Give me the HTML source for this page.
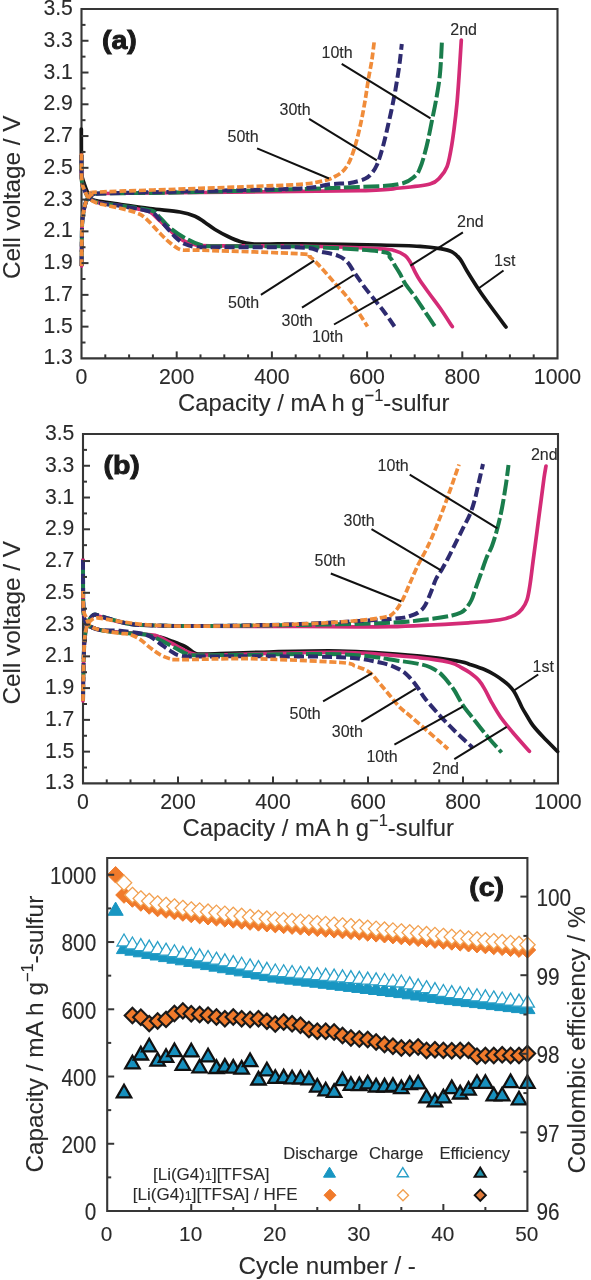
<!DOCTYPE html>
<html><head><meta charset="utf-8"><style>
html,body{margin:0;padding:0;background:#fff;}
svg{display:block;filter:blur(0.5px);}
text{font-family:"Liberation Sans", sans-serif;stroke:#2a2a2a;stroke-width:0.1px;}
</style></head><body>
<svg width="591" height="1280" viewBox="0 0 591 1280">
<rect width="591" height="1280" fill="#fff"/>
<path d="M81.5,358.4 L81.5,9 L557.5,9 L557.5,358.4 Z" fill="none" stroke="#363636" stroke-width="2.1" stroke-linejoin="miter"/>
<text x="72.9" y="364.4" font-size="21.2" font-weight="normal" text-anchor="end" fill="#2a2a2a">1.3</text>
<text x="72.9" y="332.6363636363636" font-size="21.2" font-weight="normal" text-anchor="end" fill="#2a2a2a">1.5</text>
<text x="72.9" y="300.8727272727273" font-size="21.2" font-weight="normal" text-anchor="end" fill="#2a2a2a">1.7</text>
<text x="72.9" y="269.1090909090909" font-size="21.2" font-weight="normal" text-anchor="end" fill="#2a2a2a">1.9</text>
<text x="72.9" y="237.34545454545454" font-size="21.2" font-weight="normal" text-anchor="end" fill="#2a2a2a">2.1</text>
<text x="72.9" y="205.5818181818182" font-size="21.2" font-weight="normal" text-anchor="end" fill="#2a2a2a">2.3</text>
<text x="72.9" y="173.8181818181818" font-size="21.2" font-weight="normal" text-anchor="end" fill="#2a2a2a">2.5</text>
<text x="72.9" y="142.05454545454546" font-size="21.2" font-weight="normal" text-anchor="end" fill="#2a2a2a">2.7</text>
<text x="72.9" y="110.29090909090911" font-size="21.2" font-weight="normal" text-anchor="end" fill="#2a2a2a">2.9</text>
<text x="72.9" y="78.52727272727276" font-size="21.2" font-weight="normal" text-anchor="end" fill="#2a2a2a">3.1</text>
<text x="72.9" y="46.76363636363641" font-size="21.2" font-weight="normal" text-anchor="end" fill="#2a2a2a">3.3</text>
<text x="72.9" y="15.0" font-size="21.2" font-weight="normal" text-anchor="end" fill="#2a2a2a">3.5</text>
<text x="81.5" y="383.59999999999997" font-size="21.3" font-weight="normal" text-anchor="middle" fill="#2a2a2a">0</text>
<text x="176.7" y="383.59999999999997" font-size="21.3" font-weight="normal" text-anchor="middle" fill="#2a2a2a">200</text>
<text x="271.9" y="383.59999999999997" font-size="21.3" font-weight="normal" text-anchor="middle" fill="#2a2a2a">400</text>
<text x="367.09999999999997" y="383.59999999999997" font-size="21.3" font-weight="normal" text-anchor="middle" fill="#2a2a2a">600</text>
<text x="462.29999999999995" y="383.59999999999997" font-size="21.3" font-weight="normal" text-anchor="middle" fill="#2a2a2a">800</text>
<text x="557.5" y="383.59999999999997" font-size="21.3" font-weight="normal" text-anchor="middle" fill="#2a2a2a">1000</text>
<text x="178" y="411.4" font-size="23.8" fill="#2a2a2a">Capacity / mA h g<tspan dy="-10" font-size="16.5">&#8722;1</tspan><tspan dy="10">-sulfur</tspan></text>
<text x="19.6" y="279" font-size="24.3" font-weight="normal" text-anchor="start" fill="#2a2a2a" transform="rotate(-90 19.6 279)">Cell voltage / V</text>
<text transform="translate(101.9,49) scale(1.12,1)" font-size="25.5" font-weight="bold" fill="#1a1a1a" style="stroke:#1a1a1a;stroke-width:0.9px">(a)</text>
<path d="M81.30,129.00 C81.32,134.17 81.32,152.33 81.40,160.00 C81.48,167.67 81.40,171.25 81.80,175.00 C82.20,178.75 82.82,179.55 83.80,182.50 C84.78,185.45 86.40,189.97 87.70,192.70 C89.00,195.43 89.65,197.47 91.60,198.90 C93.55,200.33 95.50,200.52 99.40,201.30 C103.30,202.08 106.57,202.40 115.00,203.60 C123.43,204.80 139.17,207.10 150.00,208.50 C160.83,209.90 172.50,210.72 180.00,212.00 C187.50,213.28 190.83,214.45 195.00,216.20 C199.17,217.95 201.67,220.28 205.00,222.50 C208.33,224.72 211.17,227.17 215.00,229.50 C218.83,231.83 223.83,234.50 228.00,236.50 C232.17,238.50 236.00,240.28 240.00,241.50 C244.00,242.72 247.00,243.38 252.00,243.80 C257.00,244.22 262.00,244.00 270.00,244.00 C278.00,244.00 281.67,243.63 300.00,243.80 C318.33,243.97 360.00,244.58 380.00,245.00 C400.00,245.42 410.00,245.70 420.00,246.30 C430.00,246.90 434.67,247.68 440.00,248.60 C445.33,249.52 448.67,250.07 452.00,251.80 C455.33,253.53 457.50,255.80 460.00,259.00 C462.50,262.20 463.83,265.83 467.00,271.00 C470.17,276.17 475.17,284.25 479.00,290.00 C482.83,295.75 485.50,299.33 490.00,305.50 C494.50,311.67 503.33,323.42 506.00,327.00" fill="none" stroke="#151515" stroke-width="3.7" stroke-linecap="round" stroke-linejoin="round"/>
<path d="M81.50,155.00 C81.55,159.33 81.28,175.12 81.80,181.00 C82.32,186.88 83.48,187.55 84.60,190.30 C85.72,193.05 86.55,195.55 88.50,197.50 C90.45,199.45 93.43,200.92 96.30,202.00 C99.17,203.08 101.75,203.42 105.70,204.00 C109.65,204.58 114.28,204.58 120.00,205.50 C125.72,206.42 135.00,208.42 140.00,209.50 C145.00,210.58 146.67,210.08 150.00,212.00 C153.33,213.92 155.83,217.22 160.00,221.00 C164.17,224.78 170.83,231.28 175.00,234.70 C179.17,238.12 181.67,239.82 185.00,241.50 C188.33,243.18 190.83,244.08 195.00,244.80 C199.17,245.52 192.50,245.60 210.00,245.80 C227.50,246.00 271.67,245.50 300.00,246.00 C328.33,246.50 364.17,248.00 380.00,248.80 C395.83,249.60 390.83,249.67 395.00,250.80 C399.17,251.93 402.50,253.78 405.00,255.60 C407.50,257.42 408.33,259.00 410.00,261.70 C411.67,264.40 413.33,268.65 415.00,271.80 C416.67,274.95 417.50,276.82 420.00,280.60 C422.50,284.38 426.67,289.93 430.00,294.50 C433.33,299.07 436.28,302.65 440.00,308.00 C443.72,313.35 450.25,323.50 452.30,326.60" fill="none" stroke="#d42b76" stroke-width="3.7" stroke-linecap="round" stroke-linejoin="round"/>
<path d="M81.60,266.00 C81.63,261.67 81.67,247.67 81.80,240.00 C81.93,232.33 81.87,225.83 82.40,220.00 C82.93,214.17 84.07,208.67 85.00,205.00 C85.93,201.33 86.67,199.75 88.00,198.00 C89.33,196.25 91.00,195.25 93.00,194.50 C95.00,193.75 82.17,193.83 100.00,193.50 C117.83,193.17 156.67,192.98 200.00,192.50 C243.33,192.02 326.67,191.35 360.00,190.60 C393.33,189.85 388.33,189.10 400.00,188.00 C411.67,186.90 423.33,185.77 430.00,184.00 C436.67,182.23 437.17,180.27 440.00,177.40 C442.83,174.53 445.17,171.45 447.00,166.80 C448.83,162.15 449.83,155.70 451.00,149.50 C452.17,143.30 453.00,137.35 454.00,129.60 C455.00,121.85 456.17,111.85 457.00,103.00 C457.83,94.15 458.28,87.00 459.00,76.50 C459.72,66.00 460.92,46.08 461.30,40.00" fill="none" stroke="#d42b76" stroke-width="3.7" stroke-linecap="round" stroke-linejoin="round"/>
<path d="M81.50,155.00 C81.55,159.33 81.28,175.12 81.80,181.00 C82.32,186.88 83.48,187.55 84.60,190.30 C85.72,193.05 86.55,195.55 88.50,197.50 C90.45,199.45 93.43,200.92 96.30,202.00 C99.17,203.08 101.75,203.42 105.70,204.00 C109.65,204.58 112.62,204.45 120.00,205.50 C127.38,206.55 143.83,208.82 150.00,210.30 C156.17,211.78 153.67,211.47 157.00,214.40 C160.33,217.33 165.33,223.97 170.00,227.90 C174.67,231.83 180.00,235.18 185.00,238.00 C190.00,240.82 195.00,243.42 200.00,244.80 C205.00,246.18 198.33,246.02 215.00,246.30 C231.67,246.58 272.50,245.63 300.00,246.50 C327.50,247.37 365.00,249.65 380.00,251.50 C395.00,253.35 387.50,255.23 390.00,257.60 C392.50,259.97 393.33,263.00 395.00,265.70 C396.67,268.40 398.33,270.87 400.00,273.80 C401.67,276.73 402.50,279.47 405.00,283.30 C407.50,287.13 411.67,292.07 415.00,296.80 C418.33,301.53 421.67,306.73 425.00,311.70 C428.33,316.67 433.33,324.12 435.00,326.60" fill="none" stroke="#1a7d4c" stroke-width="4.0" stroke-dasharray="16,3.5" stroke-linecap="butt" stroke-linejoin="round"/>
<path d="M81.60,266.00 C81.63,261.67 81.67,247.67 81.80,240.00 C81.93,232.33 81.87,225.83 82.40,220.00 C82.93,214.17 84.07,208.67 85.00,205.00 C85.93,201.33 86.67,199.75 88.00,198.00 C89.33,196.25 91.00,195.25 93.00,194.50 C95.00,193.75 82.17,193.92 100.00,193.50 C117.83,193.08 156.67,193.08 200.00,192.00 C243.33,190.92 326.67,188.33 360.00,187.00 C393.33,185.67 390.83,185.82 400.00,184.00 C409.17,182.18 411.67,178.75 415.00,176.10 C418.33,173.45 418.50,171.42 420.00,168.10 C421.50,164.78 422.67,160.85 424.00,156.20 C425.33,151.55 426.67,146.18 428.00,140.20 C429.33,134.22 430.67,126.93 432.00,120.30 C433.33,113.67 434.67,108.15 436.00,100.40 C437.33,92.65 439.00,83.87 440.00,73.80 C441.00,63.73 441.67,45.63 442.00,40.00" fill="none" stroke="#1a7d4c" stroke-width="4.0" stroke-dasharray="16,3.5" stroke-linecap="butt" stroke-linejoin="round"/>
<path d="M81.50,155.00 C81.55,159.33 81.28,175.12 81.80,181.00 C82.32,186.88 83.48,187.55 84.60,190.30 C85.72,193.05 86.55,195.55 88.50,197.50 C90.45,199.45 93.43,200.92 96.30,202.00 C99.17,203.08 101.75,203.37 105.70,204.00 C109.65,204.63 112.62,204.52 120.00,205.80 C127.38,207.08 143.33,209.33 150.00,211.70 C156.67,214.07 155.83,215.83 160.00,220.00 C164.17,224.17 170.83,232.70 175.00,236.70 C179.17,240.70 181.67,242.32 185.00,244.00 C188.33,245.68 190.83,246.25 195.00,246.80 C199.17,247.35 192.50,247.18 210.00,247.30 C227.50,247.42 281.67,246.80 300.00,247.50 C318.33,248.20 313.73,250.15 320.00,251.50 C326.27,252.85 333.10,253.90 337.60,255.60 C342.10,257.30 344.07,258.67 347.00,261.70 C349.93,264.73 352.25,269.52 355.20,273.80 C358.15,278.08 361.32,282.88 364.70,287.40 C368.08,291.92 372.12,296.63 375.50,300.90 C378.88,305.17 381.83,308.73 385.00,313.00 C388.17,317.27 392.92,324.25 394.50,326.50" fill="none" stroke="#2e2b70" stroke-width="4.0" stroke-dasharray="10,4" stroke-linecap="butt" stroke-linejoin="round"/>
<path d="M81.60,266.00 C81.63,261.67 81.67,247.67 81.80,240.00 C81.93,232.33 81.87,225.83 82.40,220.00 C82.93,214.17 84.07,208.67 85.00,205.00 C85.93,201.33 86.67,199.75 88.00,198.00 C89.33,196.25 91.00,195.25 93.00,194.50 C95.00,193.75 82.17,194.07 100.00,193.50 C117.83,192.93 166.67,191.95 200.00,191.10 C233.33,190.25 278.33,189.53 300.00,188.40 C321.67,187.27 321.67,185.22 330.00,184.30 C338.33,183.38 344.17,183.82 350.00,182.90 C355.83,181.98 361.33,180.45 365.00,178.80 C368.67,177.15 370.02,175.30 372.00,173.00 C373.98,170.70 375.48,168.03 376.90,165.00 C378.32,161.97 379.23,158.87 380.50,154.80 C381.77,150.73 383.25,145.48 384.50,140.60 C385.75,135.72 386.83,130.60 388.00,125.50 C389.17,120.40 390.42,115.08 391.50,110.00 C392.58,104.92 393.58,99.92 394.50,95.00 C395.42,90.08 396.17,85.67 397.00,80.50 C397.83,75.33 398.70,70.08 399.50,64.00 C400.30,57.92 401.42,47.33 401.80,44.00" fill="none" stroke="#2e2b70" stroke-width="4.0" stroke-dasharray="10,4" stroke-linecap="butt" stroke-linejoin="round"/>
<path d="M81.50,153.60 C81.55,158.17 81.28,174.88 81.80,181.00 C82.32,187.12 83.48,187.47 84.60,190.30 C85.72,193.13 86.55,195.92 88.50,198.00 C90.45,200.08 93.43,201.60 96.30,202.80 C99.17,204.00 101.75,204.28 105.70,205.20 C109.65,206.12 115.12,207.12 120.00,208.30 C124.88,209.48 130.83,210.73 135.00,212.30 C139.17,213.87 140.83,214.20 145.00,217.70 C149.17,221.20 155.83,229.12 160.00,233.30 C164.17,237.48 166.67,240.10 170.00,242.80 C173.33,245.50 176.67,248.27 180.00,249.50 C183.33,250.73 185.00,250.03 190.00,250.20 C195.00,250.37 191.67,249.90 210.00,250.50 C228.33,251.10 283.33,252.72 300.00,253.80 C316.67,254.88 306.67,254.90 310.00,257.00 C313.33,259.10 315.85,262.02 320.00,266.40 C324.15,270.78 330.40,278.23 334.90,283.30 C339.40,288.37 343.17,292.07 347.00,296.80 C350.83,301.53 354.48,306.75 357.90,311.70 C361.32,316.65 365.90,324.03 367.50,326.50" fill="none" stroke="#f08c3a" stroke-width="3.7" stroke-dasharray="7,2.8" stroke-linecap="butt" stroke-linejoin="round"/>
<path d="M81.60,266.00 C81.63,261.67 81.67,247.67 81.80,240.00 C81.93,232.33 81.87,225.83 82.40,220.00 C82.93,214.17 84.07,208.67 85.00,205.00 C85.93,201.33 86.67,199.92 88.00,198.00 C89.33,196.08 91.00,194.50 93.00,193.50 C95.00,192.50 82.17,192.85 100.00,192.00 C117.83,191.15 175.00,189.32 200.00,188.40 C225.00,187.48 233.33,187.17 250.00,186.50 C266.67,185.83 287.50,185.40 300.00,184.40 C312.50,183.40 319.17,181.82 325.00,180.50 C330.83,179.18 332.17,177.92 335.00,176.50 C337.83,175.08 340.00,173.75 342.00,172.00 C344.00,170.25 345.50,168.33 347.00,166.00 C348.50,163.67 349.48,161.90 351.00,158.00 C352.52,154.10 354.40,148.72 356.10,142.60 C357.80,136.48 359.68,128.40 361.20,121.30 C362.72,114.20 364.02,106.93 365.20,100.00 C366.38,93.07 367.20,86.30 368.30,79.70 C369.40,73.10 370.78,67.02 371.80,60.40 C372.82,53.78 373.97,43.40 374.40,40.00" fill="none" stroke="#f08c3a" stroke-width="3.7" stroke-dasharray="7,2.8" stroke-linecap="butt" stroke-linejoin="round"/>
<line x1="81.50" y1="342.52" x2="85.50" y2="342.52" stroke="#363636" stroke-width="2.0"/>
<line x1="81.50" y1="326.64" x2="88.50" y2="326.64" stroke="#363636" stroke-width="2.0"/>
<line x1="81.50" y1="310.75" x2="85.50" y2="310.75" stroke="#363636" stroke-width="2.0"/>
<line x1="81.50" y1="294.87" x2="88.50" y2="294.87" stroke="#363636" stroke-width="2.0"/>
<line x1="81.50" y1="278.99" x2="85.50" y2="278.99" stroke="#363636" stroke-width="2.0"/>
<line x1="81.50" y1="263.11" x2="88.50" y2="263.11" stroke="#363636" stroke-width="2.0"/>
<line x1="81.50" y1="247.23" x2="85.50" y2="247.23" stroke="#363636" stroke-width="2.0"/>
<line x1="81.50" y1="231.35" x2="88.50" y2="231.35" stroke="#363636" stroke-width="2.0"/>
<line x1="81.50" y1="215.46" x2="85.50" y2="215.46" stroke="#363636" stroke-width="2.0"/>
<line x1="81.50" y1="199.58" x2="88.50" y2="199.58" stroke="#363636" stroke-width="2.0"/>
<line x1="81.50" y1="183.70" x2="85.50" y2="183.70" stroke="#363636" stroke-width="2.0"/>
<line x1="81.50" y1="167.82" x2="88.50" y2="167.82" stroke="#363636" stroke-width="2.0"/>
<line x1="81.50" y1="151.94" x2="85.50" y2="151.94" stroke="#363636" stroke-width="2.0"/>
<line x1="81.50" y1="136.05" x2="88.50" y2="136.05" stroke="#363636" stroke-width="2.0"/>
<line x1="81.50" y1="120.17" x2="85.50" y2="120.17" stroke="#363636" stroke-width="2.0"/>
<line x1="81.50" y1="104.29" x2="88.50" y2="104.29" stroke="#363636" stroke-width="2.0"/>
<line x1="81.50" y1="88.41" x2="85.50" y2="88.41" stroke="#363636" stroke-width="2.0"/>
<line x1="81.50" y1="72.53" x2="88.50" y2="72.53" stroke="#363636" stroke-width="2.0"/>
<line x1="81.50" y1="56.65" x2="85.50" y2="56.65" stroke="#363636" stroke-width="2.0"/>
<line x1="81.50" y1="40.76" x2="88.50" y2="40.76" stroke="#363636" stroke-width="2.0"/>
<line x1="81.50" y1="24.88" x2="85.50" y2="24.88" stroke="#363636" stroke-width="2.0"/>
<line x1="105.30" y1="358.40" x2="105.30" y2="354.40" stroke="#363636" stroke-width="2.0"/>
<line x1="129.10" y1="358.40" x2="129.10" y2="354.40" stroke="#363636" stroke-width="2.0"/>
<line x1="152.90" y1="358.40" x2="152.90" y2="354.40" stroke="#363636" stroke-width="2.0"/>
<line x1="176.70" y1="358.40" x2="176.70" y2="351.40" stroke="#363636" stroke-width="2.0"/>
<line x1="200.50" y1="358.40" x2="200.50" y2="354.40" stroke="#363636" stroke-width="2.0"/>
<line x1="224.30" y1="358.40" x2="224.30" y2="354.40" stroke="#363636" stroke-width="2.0"/>
<line x1="248.10" y1="358.40" x2="248.10" y2="354.40" stroke="#363636" stroke-width="2.0"/>
<line x1="271.90" y1="358.40" x2="271.90" y2="351.40" stroke="#363636" stroke-width="2.0"/>
<line x1="295.70" y1="358.40" x2="295.70" y2="354.40" stroke="#363636" stroke-width="2.0"/>
<line x1="319.50" y1="358.40" x2="319.50" y2="354.40" stroke="#363636" stroke-width="2.0"/>
<line x1="343.30" y1="358.40" x2="343.30" y2="354.40" stroke="#363636" stroke-width="2.0"/>
<line x1="367.10" y1="358.40" x2="367.10" y2="351.40" stroke="#363636" stroke-width="2.0"/>
<line x1="390.90" y1="358.40" x2="390.90" y2="354.40" stroke="#363636" stroke-width="2.0"/>
<line x1="414.70" y1="358.40" x2="414.70" y2="354.40" stroke="#363636" stroke-width="2.0"/>
<line x1="438.50" y1="358.40" x2="438.50" y2="354.40" stroke="#363636" stroke-width="2.0"/>
<line x1="462.30" y1="358.40" x2="462.30" y2="351.40" stroke="#363636" stroke-width="2.0"/>
<line x1="486.10" y1="358.40" x2="486.10" y2="354.40" stroke="#363636" stroke-width="2.0"/>
<line x1="509.90" y1="358.40" x2="509.90" y2="354.40" stroke="#363636" stroke-width="2.0"/>
<line x1="533.70" y1="358.40" x2="533.70" y2="354.40" stroke="#363636" stroke-width="2.0"/>
<text x="321.5" y="57.5" font-size="16" font-weight="normal" text-anchor="start" fill="#2a2a2a">10th</text>
<line x1="341.70" y1="63.80" x2="430.50" y2="118.30" stroke="#111" stroke-width="2.0"/>
<text x="279.5" y="114.6" font-size="16" font-weight="normal" text-anchor="start" fill="#2a2a2a">30th</text>
<line x1="309.10" y1="118.80" x2="376.80" y2="160.40" stroke="#111" stroke-width="2.0"/>
<text x="227.5" y="142.1" font-size="16" font-weight="normal" text-anchor="start" fill="#2a2a2a">50th</text>
<line x1="257.10" y1="148.40" x2="329.00" y2="178.50" stroke="#111" stroke-width="2.0"/>
<text x="450.3" y="34.9" font-size="16" font-weight="normal" text-anchor="start" fill="#2a2a2a">2nd</text>
<text x="457" y="226.5" font-size="16" font-weight="normal" text-anchor="start" fill="#2a2a2a">2nd</text>
<line x1="462.90" y1="232.30" x2="410.40" y2="265.70" stroke="#111" stroke-width="2.0"/>
<text x="494" y="266" font-size="16" font-weight="normal" text-anchor="start" fill="#2a2a2a">1st</text>
<line x1="503.50" y1="270.50" x2="478.10" y2="288.80" stroke="#111" stroke-width="2.0"/>
<text x="228" y="307.6" font-size="16" font-weight="normal" text-anchor="start" fill="#2a2a2a">50th</text>
<line x1="260.90" y1="294.80" x2="314.20" y2="260.70" stroke="#111" stroke-width="2.0"/>
<text x="281.6" y="325.9" font-size="16" font-weight="normal" text-anchor="start" fill="#2a2a2a">30th</text>
<line x1="302.00" y1="307.60" x2="353.80" y2="275.00" stroke="#111" stroke-width="2.0"/>
<text x="312" y="342" font-size="16" font-weight="normal" text-anchor="start" fill="#2a2a2a">10th</text>
<line x1="334.00" y1="324.50" x2="403.00" y2="285.30" stroke="#111" stroke-width="2.0"/>
<path d="M83,783.4 L83,434 L558,434 L558,783.4 Z" fill="none" stroke="#363636" stroke-width="2.1" stroke-linejoin="miter"/>
<text x="74.4" y="789.4" font-size="21.2" font-weight="normal" text-anchor="end" fill="#2a2a2a">1.3</text>
<text x="74.4" y="757.6363636363636" font-size="21.2" font-weight="normal" text-anchor="end" fill="#2a2a2a">1.5</text>
<text x="74.4" y="725.8727272727273" font-size="21.2" font-weight="normal" text-anchor="end" fill="#2a2a2a">1.7</text>
<text x="74.4" y="694.1090909090909" font-size="21.2" font-weight="normal" text-anchor="end" fill="#2a2a2a">1.9</text>
<text x="74.4" y="662.3454545454546" font-size="21.2" font-weight="normal" text-anchor="end" fill="#2a2a2a">2.1</text>
<text x="74.4" y="630.5818181818182" font-size="21.2" font-weight="normal" text-anchor="end" fill="#2a2a2a">2.3</text>
<text x="74.4" y="598.8181818181818" font-size="21.2" font-weight="normal" text-anchor="end" fill="#2a2a2a">2.5</text>
<text x="74.4" y="567.0545454545454" font-size="21.2" font-weight="normal" text-anchor="end" fill="#2a2a2a">2.7</text>
<text x="74.4" y="535.290909090909" font-size="21.2" font-weight="normal" text-anchor="end" fill="#2a2a2a">2.9</text>
<text x="74.4" y="503.52727272727276" font-size="21.2" font-weight="normal" text-anchor="end" fill="#2a2a2a">3.1</text>
<text x="74.4" y="471.7636363636364" font-size="21.2" font-weight="normal" text-anchor="end" fill="#2a2a2a">3.3</text>
<text x="74.4" y="440.0" font-size="21.2" font-weight="normal" text-anchor="end" fill="#2a2a2a">3.5</text>
<text x="83.0" y="808.6" font-size="21.3" font-weight="normal" text-anchor="middle" fill="#2a2a2a">0</text>
<text x="178.0" y="808.6" font-size="21.3" font-weight="normal" text-anchor="middle" fill="#2a2a2a">200</text>
<text x="273.0" y="808.6" font-size="21.3" font-weight="normal" text-anchor="middle" fill="#2a2a2a">400</text>
<text x="368.0" y="808.6" font-size="21.3" font-weight="normal" text-anchor="middle" fill="#2a2a2a">600</text>
<text x="463.0" y="808.6" font-size="21.3" font-weight="normal" text-anchor="middle" fill="#2a2a2a">800</text>
<text x="558.0" y="808.6" font-size="21.3" font-weight="normal" text-anchor="middle" fill="#2a2a2a">1000</text>
<text x="182.5" y="836.4" font-size="23.8" fill="#2a2a2a">Capacity / mA h g<tspan dy="-10" font-size="16.5">&#8722;1</tspan><tspan dy="10">-sulfur</tspan></text>
<text x="19.6" y="704.5" font-size="24.3" font-weight="normal" text-anchor="start" fill="#2a2a2a" transform="rotate(-90 19.6 704.5)">Cell voltage / V</text>
<text transform="translate(103.4,474) scale(1.12,1)" font-size="25.5" font-weight="bold" fill="#1a1a1a" style="stroke:#1a1a1a;stroke-width:0.9px">(b)</text>
<path d="M83.00,560.00 C83.03,566.67 83.03,590.50 83.20,600.00 C83.37,609.50 83.53,613.17 84.00,617.00 C84.47,620.83 85.00,621.42 86.00,623.00 C87.00,624.58 87.67,625.33 90.00,626.50 C92.33,627.67 95.00,629.00 100.00,630.00 C105.00,631.00 113.33,631.83 120.00,632.50 C126.67,633.17 133.33,633.25 140.00,634.00 C146.67,634.75 155.00,635.92 160.00,637.00 C165.00,638.08 165.83,638.92 170.00,640.50 C174.17,642.08 180.83,644.38 185.00,646.50 C189.17,648.62 191.67,651.95 195.00,653.20 C198.33,654.45 195.83,654.12 205.00,654.00 C214.17,653.88 227.50,653.00 250.00,652.50 C272.50,652.00 311.67,650.42 340.00,651.00 C368.33,651.58 400.00,654.25 420.00,656.00 C440.00,657.75 451.67,660.08 460.00,661.50 C468.33,662.92 465.83,663.12 470.00,664.50 C474.17,665.88 480.83,668.05 485.00,669.80 C489.17,671.55 492.00,673.22 495.00,675.00 C498.00,676.78 500.67,678.75 503.00,680.50 C505.33,682.25 507.17,683.67 509.00,685.50 C510.83,687.33 512.50,689.25 514.00,691.50 C515.50,693.75 516.67,696.33 518.00,699.00 C519.33,701.67 520.50,704.67 522.00,707.50 C523.50,710.33 525.17,713.00 527.00,716.00 C528.83,719.00 530.33,722.03 533.00,725.50 C535.67,728.97 538.90,732.47 543.00,736.80 C547.10,741.13 555.17,749.05 557.60,751.50" fill="none" stroke="#151515" stroke-width="3.7" stroke-linecap="round" stroke-linejoin="round"/>
<path d="M83.00,560.00 C83.03,566.67 83.03,590.50 83.20,600.00 C83.37,609.50 83.53,613.17 84.00,617.00 C84.47,620.83 85.00,621.42 86.00,623.00 C87.00,624.58 87.67,625.33 90.00,626.50 C92.33,627.67 95.00,629.00 100.00,630.00 C105.00,631.00 113.33,631.83 120.00,632.50 C126.67,633.17 134.17,633.52 140.00,634.00 C145.83,634.48 150.00,633.98 155.00,635.40 C160.00,636.82 165.00,639.97 170.00,642.50 C175.00,645.03 180.83,648.63 185.00,650.60 C189.17,652.57 190.83,653.57 195.00,654.30 C199.17,655.03 185.83,655.33 210.00,655.00 C234.17,654.67 305.00,651.83 340.00,652.30 C375.00,652.77 401.67,656.10 420.00,657.80 C438.33,659.50 443.00,660.80 450.00,662.50 C457.00,664.20 458.67,666.28 462.00,668.00 C465.33,669.72 467.17,670.72 470.00,672.80 C472.83,674.88 476.50,677.70 479.00,680.50 C481.50,683.30 482.95,686.05 485.00,689.60 C487.05,693.15 488.72,697.23 491.30,701.80 C493.88,706.37 496.95,711.93 500.50,717.00 C504.05,722.07 507.78,726.48 512.60,732.20 C517.42,737.92 526.60,748.12 529.40,751.30" fill="none" stroke="#d42b76" stroke-width="3.7" stroke-linecap="round" stroke-linejoin="round"/>
<path d="M83.00,701.00 C83.05,697.50 83.13,688.50 83.30,680.00 C83.47,671.50 83.63,658.00 84.00,650.00 C84.37,642.00 84.83,636.67 85.50,632.00 C86.17,627.33 86.92,624.58 88.00,622.00 C89.08,619.42 90.83,617.67 92.00,616.50 C93.17,615.33 93.67,615.00 95.00,615.00 C96.33,615.00 97.50,615.75 100.00,616.50 C102.50,617.25 105.00,618.25 110.00,619.50 C115.00,620.75 123.33,623.00 130.00,624.00 C136.67,625.00 138.33,625.13 150.00,625.50 C161.67,625.87 175.00,626.03 200.00,626.20 C225.00,626.37 268.33,626.43 300.00,626.50 C331.67,626.57 361.67,627.23 390.00,626.60 C418.33,625.97 451.67,623.85 470.00,622.70 C488.33,621.55 492.50,620.97 500.00,619.70 C507.50,618.43 511.33,616.88 515.00,615.10 C518.67,613.32 520.00,611.53 522.00,609.00 C524.00,606.47 525.67,603.95 527.00,599.90 C528.33,595.85 529.00,591.05 530.00,584.70 C531.00,578.35 531.83,570.68 533.00,561.80 C534.17,552.92 535.67,541.55 537.00,531.40 C538.33,521.25 539.83,509.78 541.00,500.90 C542.17,492.02 543.17,483.92 544.00,478.10 C544.83,472.28 545.67,468.02 546.00,466.00" fill="none" stroke="#d42b76" stroke-width="3.7" stroke-linecap="round" stroke-linejoin="round"/>
<path d="M83.00,560.00 C83.03,566.67 83.03,590.50 83.20,600.00 C83.37,609.50 83.53,613.17 84.00,617.00 C84.47,620.83 85.00,621.42 86.00,623.00 C87.00,624.58 87.67,625.33 90.00,626.50 C92.33,627.67 95.00,629.00 100.00,630.00 C105.00,631.00 113.33,631.83 120.00,632.50 C126.67,633.17 135.00,633.52 140.00,634.00 C145.00,634.48 145.83,633.98 150.00,635.40 C154.17,636.82 160.00,639.97 165.00,642.50 C170.00,645.03 175.83,648.57 180.00,650.60 C184.17,652.63 185.83,653.92 190.00,654.70 C194.17,655.48 180.00,655.37 205.00,655.30 C230.00,655.23 307.50,653.35 340.00,654.30 C372.50,655.25 386.67,659.35 400.00,661.00 C413.33,662.65 414.97,663.15 420.00,664.20 C425.03,665.25 426.82,665.77 430.20,667.30 C433.58,668.83 437.27,670.87 440.30,673.40 C443.33,675.93 446.03,679.63 448.40,682.50 C450.77,685.37 452.13,686.88 454.50,690.60 C456.87,694.32 460.02,700.82 462.60,704.80 C465.18,708.78 467.10,710.77 470.00,714.50 C472.90,718.23 476.67,723.03 480.00,727.20 C483.33,731.37 486.40,735.28 490.00,739.50 C493.60,743.72 499.67,750.33 501.60,752.50" fill="none" stroke="#1a7d4c" stroke-width="4.0" stroke-dasharray="16,3.5" stroke-linecap="butt" stroke-linejoin="round"/>
<path d="M83.00,701.00 C83.05,697.50 83.13,688.50 83.30,680.00 C83.47,671.50 83.63,658.00 84.00,650.00 C84.37,642.00 84.83,636.67 85.50,632.00 C86.17,627.33 86.92,624.67 88.00,622.00 C89.08,619.33 90.83,617.25 92.00,616.00 C93.17,614.75 93.67,614.50 95.00,614.50 C96.33,614.50 97.50,615.25 100.00,616.00 C102.50,616.75 105.00,617.67 110.00,619.00 C115.00,620.33 123.33,622.95 130.00,624.00 C136.67,625.05 138.33,624.97 150.00,625.30 C161.67,625.63 175.00,626.05 200.00,626.00 C225.00,625.95 268.33,625.53 300.00,625.00 C331.67,624.47 368.33,623.80 390.00,622.80 C411.67,621.80 419.67,620.22 430.00,619.00 C440.33,617.78 446.83,616.58 452.00,615.50 C457.17,614.42 458.67,613.67 461.00,612.50 C463.33,611.33 464.25,610.58 466.00,608.50 C467.75,606.42 469.92,603.30 471.50,600.00 C473.08,596.70 473.98,592.95 475.50,588.70 C477.02,584.45 478.73,579.73 480.60,574.50 C482.47,569.27 484.80,562.05 486.70,557.30 C488.60,552.55 490.22,550.83 492.00,546.00 C493.78,541.17 495.73,534.63 497.40,528.30 C499.07,521.97 500.57,515.38 502.00,508.00 C503.43,500.62 504.92,491.17 506.00,484.00 C507.08,476.83 508.08,468.17 508.50,465.00" fill="none" stroke="#1a7d4c" stroke-width="4.0" stroke-dasharray="16,3.5" stroke-linecap="butt" stroke-linejoin="round"/>
<path d="M83.00,560.00 C83.03,566.67 83.03,590.50 83.20,600.00 C83.37,609.50 83.53,613.17 84.00,617.00 C84.47,620.83 85.00,621.42 86.00,623.00 C87.00,624.58 87.67,625.33 90.00,626.50 C92.33,627.67 95.00,629.28 100.00,630.00 C105.00,630.72 113.33,630.25 120.00,630.80 C126.67,631.35 135.00,632.37 140.00,633.30 C145.00,634.23 146.67,634.70 150.00,636.40 C153.33,638.10 156.67,641.13 160.00,643.50 C163.33,645.87 166.67,648.57 170.00,650.60 C173.33,652.63 175.00,654.72 180.00,655.70 C185.00,656.68 188.33,656.40 200.00,656.50 C211.67,656.60 226.67,656.18 250.00,656.30 C273.33,656.42 318.33,656.17 340.00,657.20 C361.67,658.23 370.00,660.43 380.00,662.50 C390.00,664.57 395.00,667.03 400.00,669.60 C405.00,672.17 407.00,674.83 410.00,677.90 C413.00,680.97 415.50,684.57 418.00,688.00 C420.50,691.43 421.33,693.87 425.00,698.50 C428.67,703.13 435.00,710.35 440.00,715.80 C445.00,721.25 449.58,725.92 455.00,731.20 C460.42,736.48 469.58,744.78 472.50,747.50" fill="none" stroke="#2e2b70" stroke-width="4.0" stroke-dasharray="10,4" stroke-linecap="butt" stroke-linejoin="round"/>
<path d="M83.00,701.00 C83.05,697.50 83.13,688.50 83.30,680.00 C83.47,671.50 83.63,658.00 84.00,650.00 C84.37,642.00 84.83,636.67 85.50,632.00 C86.17,627.33 86.92,624.67 88.00,622.00 C89.08,619.33 90.83,617.25 92.00,616.00 C93.17,614.75 93.67,614.50 95.00,614.50 C96.33,614.50 97.50,615.25 100.00,616.00 C102.50,616.75 105.00,617.67 110.00,619.00 C115.00,620.33 123.33,622.95 130.00,624.00 C136.67,625.05 138.33,624.97 150.00,625.30 C161.67,625.63 175.00,626.22 200.00,626.00 C225.00,625.78 268.33,625.17 300.00,624.00 C331.67,622.83 371.67,620.33 390.00,619.00 C408.33,617.67 405.17,617.17 410.00,616.00 C414.83,614.83 416.50,613.75 419.00,612.00 C421.50,610.25 423.00,608.83 425.00,605.50 C427.00,602.17 429.17,596.42 431.00,592.00 C432.83,587.58 434.23,582.68 436.00,579.00 C437.77,575.32 439.68,573.20 441.60,569.90 C443.52,566.60 445.13,563.75 447.50,559.20 C449.87,554.65 453.23,547.73 455.80,542.60 C458.37,537.47 460.53,533.13 462.90,528.40 C465.27,523.67 468.03,518.93 470.00,514.20 C471.97,509.47 473.32,504.93 474.70,500.00 C476.08,495.07 476.92,490.60 478.30,484.60 C479.68,478.60 482.22,467.43 483.00,464.00" fill="none" stroke="#2e2b70" stroke-width="4.0" stroke-dasharray="10,4" stroke-linecap="butt" stroke-linejoin="round"/>
<path d="M83.00,591.00 C83.08,594.17 83.00,605.67 83.50,610.00 C84.00,614.33 84.92,614.38 86.00,617.00 C87.08,619.62 87.67,623.53 90.00,625.70 C92.33,627.87 95.00,628.73 100.00,630.00 C105.00,631.27 115.00,632.57 120.00,633.30 C125.00,634.03 126.67,633.38 130.00,634.40 C133.33,635.42 136.67,637.20 140.00,639.40 C143.33,641.60 146.67,645.05 150.00,647.60 C153.33,650.15 156.67,652.85 160.00,654.70 C163.33,656.55 166.67,657.87 170.00,658.70 C173.33,659.53 166.67,659.70 180.00,659.70 C193.33,659.70 223.33,658.23 250.00,658.70 C276.67,659.17 322.50,661.27 340.00,662.50 C357.50,663.73 350.83,664.92 355.00,666.10 C359.17,667.28 362.17,668.22 365.00,669.60 C367.83,670.98 369.50,672.03 372.00,674.40 C374.50,676.77 377.00,680.25 380.00,683.80 C383.00,687.35 386.67,691.75 390.00,695.70 C393.33,699.65 396.67,704.15 400.00,707.50 C403.33,710.85 405.83,712.23 410.00,715.80 C414.17,719.37 420.00,724.55 425.00,728.90 C430.00,733.25 436.17,738.55 440.00,741.90 C443.83,745.25 446.67,747.82 448.00,749.00" fill="none" stroke="#f08c3a" stroke-width="3.7" stroke-dasharray="7,2.8" stroke-linecap="butt" stroke-linejoin="round"/>
<path d="M83.00,701.00 C83.05,697.50 83.13,688.50 83.30,680.00 C83.47,671.50 83.63,658.00 84.00,650.00 C84.37,642.00 84.83,636.33 85.50,632.00 C86.17,627.67 86.92,626.08 88.00,624.00 C89.08,621.92 90.50,620.53 92.00,619.50 C93.50,618.47 94.83,617.88 97.00,617.80 C99.17,617.72 101.17,618.38 105.00,619.00 C108.83,619.62 112.50,620.50 120.00,621.50 C127.50,622.50 136.67,624.22 150.00,625.00 C163.33,625.78 176.67,626.30 200.00,626.20 C223.33,626.10 265.00,625.22 290.00,624.40 C315.00,623.58 334.17,622.53 350.00,621.30 C365.83,620.07 377.67,618.47 385.00,617.00 C392.33,615.53 391.17,615.17 394.00,612.50 C396.83,609.83 399.33,605.92 402.00,601.00 C404.67,596.08 407.33,589.00 410.00,583.00 C412.67,577.00 415.50,570.17 418.00,565.00 C420.50,559.83 422.83,556.25 425.00,552.00 C427.17,547.75 428.43,545.40 431.00,539.50 C433.57,533.60 437.45,524.17 440.40,516.60 C443.35,509.03 446.43,500.37 448.70,494.10 C450.97,487.83 452.28,483.93 454.00,479.00 C455.72,474.07 458.17,466.92 459.00,464.50" fill="none" stroke="#f08c3a" stroke-width="3.7" stroke-dasharray="7,2.8" stroke-linecap="butt" stroke-linejoin="round"/>
<line x1="83.00" y1="767.52" x2="87.00" y2="767.52" stroke="#363636" stroke-width="2.0"/>
<line x1="83.00" y1="751.64" x2="90.00" y2="751.64" stroke="#363636" stroke-width="2.0"/>
<line x1="83.00" y1="735.75" x2="87.00" y2="735.75" stroke="#363636" stroke-width="2.0"/>
<line x1="83.00" y1="719.87" x2="90.00" y2="719.87" stroke="#363636" stroke-width="2.0"/>
<line x1="83.00" y1="703.99" x2="87.00" y2="703.99" stroke="#363636" stroke-width="2.0"/>
<line x1="83.00" y1="688.11" x2="90.00" y2="688.11" stroke="#363636" stroke-width="2.0"/>
<line x1="83.00" y1="672.23" x2="87.00" y2="672.23" stroke="#363636" stroke-width="2.0"/>
<line x1="83.00" y1="656.35" x2="90.00" y2="656.35" stroke="#363636" stroke-width="2.0"/>
<line x1="83.00" y1="640.46" x2="87.00" y2="640.46" stroke="#363636" stroke-width="2.0"/>
<line x1="83.00" y1="624.58" x2="90.00" y2="624.58" stroke="#363636" stroke-width="2.0"/>
<line x1="83.00" y1="608.70" x2="87.00" y2="608.70" stroke="#363636" stroke-width="2.0"/>
<line x1="83.00" y1="592.82" x2="90.00" y2="592.82" stroke="#363636" stroke-width="2.0"/>
<line x1="83.00" y1="576.94" x2="87.00" y2="576.94" stroke="#363636" stroke-width="2.0"/>
<line x1="83.00" y1="561.05" x2="90.00" y2="561.05" stroke="#363636" stroke-width="2.0"/>
<line x1="83.00" y1="545.17" x2="87.00" y2="545.17" stroke="#363636" stroke-width="2.0"/>
<line x1="83.00" y1="529.29" x2="90.00" y2="529.29" stroke="#363636" stroke-width="2.0"/>
<line x1="83.00" y1="513.41" x2="87.00" y2="513.41" stroke="#363636" stroke-width="2.0"/>
<line x1="83.00" y1="497.53" x2="90.00" y2="497.53" stroke="#363636" stroke-width="2.0"/>
<line x1="83.00" y1="481.65" x2="87.00" y2="481.65" stroke="#363636" stroke-width="2.0"/>
<line x1="83.00" y1="465.76" x2="90.00" y2="465.76" stroke="#363636" stroke-width="2.0"/>
<line x1="83.00" y1="449.88" x2="87.00" y2="449.88" stroke="#363636" stroke-width="2.0"/>
<line x1="106.75" y1="783.40" x2="106.75" y2="779.40" stroke="#363636" stroke-width="2.0"/>
<line x1="130.50" y1="783.40" x2="130.50" y2="779.40" stroke="#363636" stroke-width="2.0"/>
<line x1="154.25" y1="783.40" x2="154.25" y2="779.40" stroke="#363636" stroke-width="2.0"/>
<line x1="178.00" y1="783.40" x2="178.00" y2="776.40" stroke="#363636" stroke-width="2.0"/>
<line x1="201.75" y1="783.40" x2="201.75" y2="779.40" stroke="#363636" stroke-width="2.0"/>
<line x1="225.50" y1="783.40" x2="225.50" y2="779.40" stroke="#363636" stroke-width="2.0"/>
<line x1="249.25" y1="783.40" x2="249.25" y2="779.40" stroke="#363636" stroke-width="2.0"/>
<line x1="273.00" y1="783.40" x2="273.00" y2="776.40" stroke="#363636" stroke-width="2.0"/>
<line x1="296.75" y1="783.40" x2="296.75" y2="779.40" stroke="#363636" stroke-width="2.0"/>
<line x1="320.50" y1="783.40" x2="320.50" y2="779.40" stroke="#363636" stroke-width="2.0"/>
<line x1="344.25" y1="783.40" x2="344.25" y2="779.40" stroke="#363636" stroke-width="2.0"/>
<line x1="368.00" y1="783.40" x2="368.00" y2="776.40" stroke="#363636" stroke-width="2.0"/>
<line x1="391.75" y1="783.40" x2="391.75" y2="779.40" stroke="#363636" stroke-width="2.0"/>
<line x1="415.50" y1="783.40" x2="415.50" y2="779.40" stroke="#363636" stroke-width="2.0"/>
<line x1="439.25" y1="783.40" x2="439.25" y2="779.40" stroke="#363636" stroke-width="2.0"/>
<line x1="463.00" y1="783.40" x2="463.00" y2="776.40" stroke="#363636" stroke-width="2.0"/>
<line x1="486.75" y1="783.40" x2="486.75" y2="779.40" stroke="#363636" stroke-width="2.0"/>
<line x1="510.50" y1="783.40" x2="510.50" y2="779.40" stroke="#363636" stroke-width="2.0"/>
<line x1="534.25" y1="783.40" x2="534.25" y2="779.40" stroke="#363636" stroke-width="2.0"/>
<text x="377.6" y="470.6" font-size="16" font-weight="normal" text-anchor="start" fill="#2a2a2a">10th</text>
<line x1="409.70" y1="474.60" x2="497.40" y2="528.30" stroke="#111" stroke-width="2.0"/>
<text x="343.5" y="525.6" font-size="16" font-weight="normal" text-anchor="start" fill="#2a2a2a">30th</text>
<line x1="371.50" y1="529.10" x2="441.00" y2="570.30" stroke="#111" stroke-width="2.0"/>
<text x="314.5" y="566.3" font-size="16" font-weight="normal" text-anchor="start" fill="#2a2a2a">50th</text>
<line x1="330.80" y1="573.50" x2="401.40" y2="601.50" stroke="#111" stroke-width="2.0"/>
<text x="530.9" y="459.5" font-size="16" font-weight="normal" text-anchor="start" fill="#2a2a2a">2nd</text>
<text x="532.5" y="671.5" font-size="16" font-weight="normal" text-anchor="start" fill="#2a2a2a">1st</text>
<line x1="538.20" y1="674.50" x2="514.00" y2="690.50" stroke="#111" stroke-width="2.0"/>
<text x="289.5" y="719.2" font-size="16" font-weight="normal" text-anchor="start" fill="#2a2a2a">50th</text>
<line x1="323.10" y1="701.30" x2="372.00" y2="673.20" stroke="#111" stroke-width="2.0"/>
<text x="331.8" y="737" font-size="16" font-weight="normal" text-anchor="start" fill="#2a2a2a">30th</text>
<line x1="361.30" y1="721.70" x2="415.80" y2="688.60" stroke="#111" stroke-width="2.0"/>
<text x="366.4" y="762.4" font-size="16" font-weight="normal" text-anchor="start" fill="#2a2a2a">10th</text>
<line x1="394.40" y1="744.60" x2="463.20" y2="706.40" stroke="#111" stroke-width="2.0"/>
<text x="432.3" y="774.4" font-size="16" font-weight="normal" text-anchor="start" fill="#2a2a2a">2nd</text>
<line x1="454.30" y1="759.20" x2="506.70" y2="726.90" stroke="#111" stroke-width="2.0"/>
<path d="M115.60,866.50 L123.90,874.80 L115.60,883.10 L107.30,874.80 Z" fill="#f07a2b" stroke="#f07a2b" stroke-width="1" stroke-linejoin="miter"/>
<path d="M124.01,886.70 L132.31,895.00 L124.01,903.30 L115.71,895.00 Z" fill="#f07a2b" stroke="#f07a2b" stroke-width="1" stroke-linejoin="miter"/>
<path d="M132.41,890.70 L140.71,899.00 L132.41,907.30 L124.11,899.00 Z" fill="#f07a2b" stroke="#f07a2b" stroke-width="1" stroke-linejoin="miter"/>
<path d="M140.82,894.70 L149.12,903.00 L140.82,911.30 L132.52,903.00 Z" fill="#f07a2b" stroke="#f07a2b" stroke-width="1" stroke-linejoin="miter"/>
<path d="M149.22,897.70 L157.52,906.00 L149.22,914.30 L140.92,906.00 Z" fill="#f07a2b" stroke="#f07a2b" stroke-width="1" stroke-linejoin="miter"/>
<path d="M157.62,900.20 L165.92,908.50 L157.62,916.80 L149.32,908.50 Z" fill="#f07a2b" stroke="#f07a2b" stroke-width="1" stroke-linejoin="miter"/>
<path d="M166.03,901.70 L174.33,910.00 L166.03,918.30 L157.73,910.00 Z" fill="#f07a2b" stroke="#f07a2b" stroke-width="1" stroke-linejoin="miter"/>
<path d="M174.43,903.20 L182.73,911.50 L174.43,919.80 L166.13,911.50 Z" fill="#f07a2b" stroke="#f07a2b" stroke-width="1" stroke-linejoin="miter"/>
<path d="M182.84,904.70 L191.14,913.00 L182.84,921.30 L174.54,913.00 Z" fill="#f07a2b" stroke="#f07a2b" stroke-width="1" stroke-linejoin="miter"/>
<path d="M191.24,906.20 L199.54,914.50 L191.24,922.80 L182.94,914.50 Z" fill="#f07a2b" stroke="#f07a2b" stroke-width="1" stroke-linejoin="miter"/>
<path d="M199.64,907.30 L207.94,915.60 L199.64,923.90 L191.34,915.60 Z" fill="#f07a2b" stroke="#f07a2b" stroke-width="1" stroke-linejoin="miter"/>
<path d="M208.05,908.40 L216.35,916.70 L208.05,925.00 L199.75,916.70 Z" fill="#f07a2b" stroke="#f07a2b" stroke-width="1" stroke-linejoin="miter"/>
<path d="M216.45,909.50 L224.75,917.80 L216.45,926.10 L208.15,917.80 Z" fill="#f07a2b" stroke="#f07a2b" stroke-width="1" stroke-linejoin="miter"/>
<path d="M224.86,910.55 L233.16,918.85 L224.86,927.15 L216.56,918.85 Z" fill="#f07a2b" stroke="#f07a2b" stroke-width="1" stroke-linejoin="miter"/>
<path d="M233.26,911.60 L241.56,919.90 L233.26,928.20 L224.96,919.90 Z" fill="#f07a2b" stroke="#f07a2b" stroke-width="1" stroke-linejoin="miter"/>
<path d="M241.66,912.65 L249.96,920.95 L241.66,929.25 L233.36,920.95 Z" fill="#f07a2b" stroke="#f07a2b" stroke-width="1" stroke-linejoin="miter"/>
<path d="M250.07,913.70 L258.37,922.00 L250.07,930.30 L241.77,922.00 Z" fill="#f07a2b" stroke="#f07a2b" stroke-width="1" stroke-linejoin="miter"/>
<path d="M258.47,914.57 L266.77,922.87 L258.47,931.17 L250.17,922.87 Z" fill="#f07a2b" stroke="#f07a2b" stroke-width="1" stroke-linejoin="miter"/>
<path d="M266.88,915.43 L275.18,923.73 L266.88,932.03 L258.58,923.73 Z" fill="#f07a2b" stroke="#f07a2b" stroke-width="1" stroke-linejoin="miter"/>
<path d="M275.28,916.30 L283.58,924.60 L275.28,932.90 L266.98,924.60 Z" fill="#f07a2b" stroke="#f07a2b" stroke-width="1" stroke-linejoin="miter"/>
<path d="M283.68,917.04 L291.98,925.34 L283.68,933.64 L275.38,925.34 Z" fill="#f07a2b" stroke="#f07a2b" stroke-width="1" stroke-linejoin="miter"/>
<path d="M292.09,917.78 L300.39,926.08 L292.09,934.38 L283.79,926.08 Z" fill="#f07a2b" stroke="#f07a2b" stroke-width="1" stroke-linejoin="miter"/>
<path d="M300.49,918.52 L308.79,926.82 L300.49,935.12 L292.19,926.82 Z" fill="#f07a2b" stroke="#f07a2b" stroke-width="1" stroke-linejoin="miter"/>
<path d="M308.90,919.26 L317.20,927.56 L308.90,935.86 L300.60,927.56 Z" fill="#f07a2b" stroke="#f07a2b" stroke-width="1" stroke-linejoin="miter"/>
<path d="M317.30,920.00 L325.60,928.30 L317.30,936.60 L309.00,928.30 Z" fill="#f07a2b" stroke="#f07a2b" stroke-width="1" stroke-linejoin="miter"/>
<path d="M325.70,920.74 L334.00,929.04 L325.70,937.34 L317.40,929.04 Z" fill="#f07a2b" stroke="#f07a2b" stroke-width="1" stroke-linejoin="miter"/>
<path d="M334.11,921.48 L342.41,929.78 L334.11,938.08 L325.81,929.78 Z" fill="#f07a2b" stroke="#f07a2b" stroke-width="1" stroke-linejoin="miter"/>
<path d="M342.51,922.22 L350.81,930.52 L342.51,938.82 L334.21,930.52 Z" fill="#f07a2b" stroke="#f07a2b" stroke-width="1" stroke-linejoin="miter"/>
<path d="M350.92,922.96 L359.22,931.26 L350.92,939.56 L342.62,931.26 Z" fill="#f07a2b" stroke="#f07a2b" stroke-width="1" stroke-linejoin="miter"/>
<path d="M359.32,923.70 L367.62,932.00 L359.32,940.30 L351.02,932.00 Z" fill="#f07a2b" stroke="#f07a2b" stroke-width="1" stroke-linejoin="miter"/>
<path d="M367.72,924.60 L376.02,932.90 L367.72,941.20 L359.42,932.90 Z" fill="#f07a2b" stroke="#f07a2b" stroke-width="1" stroke-linejoin="miter"/>
<path d="M376.13,925.50 L384.43,933.80 L376.13,942.10 L367.83,933.80 Z" fill="#f07a2b" stroke="#f07a2b" stroke-width="1" stroke-linejoin="miter"/>
<path d="M384.53,926.40 L392.83,934.70 L384.53,943.00 L376.23,934.70 Z" fill="#f07a2b" stroke="#f07a2b" stroke-width="1" stroke-linejoin="miter"/>
<path d="M392.94,927.30 L401.24,935.60 L392.94,943.90 L384.64,935.60 Z" fill="#f07a2b" stroke="#f07a2b" stroke-width="1" stroke-linejoin="miter"/>
<path d="M401.34,928.20 L409.64,936.50 L401.34,944.80 L393.04,936.50 Z" fill="#f07a2b" stroke="#f07a2b" stroke-width="1" stroke-linejoin="miter"/>
<path d="M409.74,929.10 L418.04,937.40 L409.74,945.70 L401.44,937.40 Z" fill="#f07a2b" stroke="#f07a2b" stroke-width="1" stroke-linejoin="miter"/>
<path d="M418.15,930.00 L426.45,938.30 L418.15,946.60 L409.85,938.30 Z" fill="#f07a2b" stroke="#f07a2b" stroke-width="1" stroke-linejoin="miter"/>
<path d="M426.55,930.90 L434.85,939.20 L426.55,947.50 L418.25,939.20 Z" fill="#f07a2b" stroke="#f07a2b" stroke-width="1" stroke-linejoin="miter"/>
<path d="M434.96,931.80 L443.26,940.10 L434.96,948.40 L426.66,940.10 Z" fill="#f07a2b" stroke="#f07a2b" stroke-width="1" stroke-linejoin="miter"/>
<path d="M443.36,932.70 L451.66,941.00 L443.36,949.30 L435.06,941.00 Z" fill="#f07a2b" stroke="#f07a2b" stroke-width="1" stroke-linejoin="miter"/>
<path d="M451.76,933.60 L460.06,941.90 L451.76,950.20 L443.46,941.90 Z" fill="#f07a2b" stroke="#f07a2b" stroke-width="1" stroke-linejoin="miter"/>
<path d="M460.17,934.50 L468.47,942.80 L460.17,951.10 L451.87,942.80 Z" fill="#f07a2b" stroke="#f07a2b" stroke-width="1" stroke-linejoin="miter"/>
<path d="M468.57,935.40 L476.87,943.70 L468.57,952.00 L460.27,943.70 Z" fill="#f07a2b" stroke="#f07a2b" stroke-width="1" stroke-linejoin="miter"/>
<path d="M476.98,936.30 L485.28,944.60 L476.98,952.90 L468.68,944.60 Z" fill="#f07a2b" stroke="#f07a2b" stroke-width="1" stroke-linejoin="miter"/>
<path d="M485.38,937.20 L493.68,945.50 L485.38,953.80 L477.08,945.50 Z" fill="#f07a2b" stroke="#f07a2b" stroke-width="1" stroke-linejoin="miter"/>
<path d="M493.78,938.10 L502.08,946.40 L493.78,954.70 L485.48,946.40 Z" fill="#f07a2b" stroke="#f07a2b" stroke-width="1" stroke-linejoin="miter"/>
<path d="M502.19,939.00 L510.49,947.30 L502.19,955.60 L493.89,947.30 Z" fill="#f07a2b" stroke="#f07a2b" stroke-width="1" stroke-linejoin="miter"/>
<path d="M510.59,939.90 L518.89,948.20 L510.59,956.50 L502.29,948.20 Z" fill="#f07a2b" stroke="#f07a2b" stroke-width="1" stroke-linejoin="miter"/>
<path d="M519.00,940.80 L527.30,949.10 L519.00,957.40 L510.70,949.10 Z" fill="#f07a2b" stroke="#f07a2b" stroke-width="1" stroke-linejoin="miter"/>
<path d="M527.40,941.70 L535.70,950.00 L527.40,958.30 L519.10,950.00 Z" fill="#f07a2b" stroke="#f07a2b" stroke-width="1" stroke-linejoin="miter"/>
<path d="M124.01,875.10 L131.71,882.80 L124.01,890.50 L116.31,882.80 Z" fill="#fff" stroke="#f2a050" stroke-width="1.3" stroke-linejoin="miter"/>
<path d="M132.41,887.30 L140.11,895.00 L132.41,902.70 L124.71,895.00 Z" fill="#fff" stroke="#f2a050" stroke-width="1.3" stroke-linejoin="miter"/>
<path d="M140.82,890.80 L148.52,898.50 L140.82,906.20 L133.12,898.50 Z" fill="#fff" stroke="#f2a050" stroke-width="1.3" stroke-linejoin="miter"/>
<path d="M149.22,893.30 L156.92,901.00 L149.22,908.70 L141.52,901.00 Z" fill="#fff" stroke="#f2a050" stroke-width="1.3" stroke-linejoin="miter"/>
<path d="M157.62,895.80 L165.32,903.50 L157.62,911.20 L149.92,903.50 Z" fill="#fff" stroke="#f2a050" stroke-width="1.3" stroke-linejoin="miter"/>
<path d="M166.03,897.30 L173.73,905.00 L166.03,912.70 L158.33,905.00 Z" fill="#fff" stroke="#f2a050" stroke-width="1.3" stroke-linejoin="miter"/>
<path d="M174.43,898.80 L182.13,906.50 L174.43,914.20 L166.73,906.50 Z" fill="#fff" stroke="#f2a050" stroke-width="1.3" stroke-linejoin="miter"/>
<path d="M182.84,900.30 L190.54,908.00 L182.84,915.70 L175.14,908.00 Z" fill="#fff" stroke="#f2a050" stroke-width="1.3" stroke-linejoin="miter"/>
<path d="M191.24,901.80 L198.94,909.50 L191.24,917.20 L183.54,909.50 Z" fill="#fff" stroke="#f2a050" stroke-width="1.3" stroke-linejoin="miter"/>
<path d="M199.64,902.90 L207.34,910.60 L199.64,918.30 L191.94,910.60 Z" fill="#fff" stroke="#f2a050" stroke-width="1.3" stroke-linejoin="miter"/>
<path d="M208.05,904.00 L215.75,911.70 L208.05,919.40 L200.35,911.70 Z" fill="#fff" stroke="#f2a050" stroke-width="1.3" stroke-linejoin="miter"/>
<path d="M216.45,905.10 L224.15,912.80 L216.45,920.50 L208.75,912.80 Z" fill="#fff" stroke="#f2a050" stroke-width="1.3" stroke-linejoin="miter"/>
<path d="M224.86,906.15 L232.56,913.85 L224.86,921.55 L217.16,913.85 Z" fill="#fff" stroke="#f2a050" stroke-width="1.3" stroke-linejoin="miter"/>
<path d="M233.26,907.20 L240.96,914.90 L233.26,922.60 L225.56,914.90 Z" fill="#fff" stroke="#f2a050" stroke-width="1.3" stroke-linejoin="miter"/>
<path d="M241.66,908.25 L249.36,915.95 L241.66,923.65 L233.96,915.95 Z" fill="#fff" stroke="#f2a050" stroke-width="1.3" stroke-linejoin="miter"/>
<path d="M250.07,909.30 L257.77,917.00 L250.07,924.70 L242.37,917.00 Z" fill="#fff" stroke="#f2a050" stroke-width="1.3" stroke-linejoin="miter"/>
<path d="M258.47,910.17 L266.17,917.87 L258.47,925.57 L250.77,917.87 Z" fill="#fff" stroke="#f2a050" stroke-width="1.3" stroke-linejoin="miter"/>
<path d="M266.88,911.03 L274.58,918.73 L266.88,926.43 L259.18,918.73 Z" fill="#fff" stroke="#f2a050" stroke-width="1.3" stroke-linejoin="miter"/>
<path d="M275.28,911.90 L282.98,919.60 L275.28,927.30 L267.58,919.60 Z" fill="#fff" stroke="#f2a050" stroke-width="1.3" stroke-linejoin="miter"/>
<path d="M283.68,912.64 L291.38,920.34 L283.68,928.04 L275.98,920.34 Z" fill="#fff" stroke="#f2a050" stroke-width="1.3" stroke-linejoin="miter"/>
<path d="M292.09,913.38 L299.79,921.08 L292.09,928.78 L284.39,921.08 Z" fill="#fff" stroke="#f2a050" stroke-width="1.3" stroke-linejoin="miter"/>
<path d="M300.49,914.12 L308.19,921.82 L300.49,929.52 L292.79,921.82 Z" fill="#fff" stroke="#f2a050" stroke-width="1.3" stroke-linejoin="miter"/>
<path d="M308.90,914.86 L316.60,922.56 L308.90,930.26 L301.20,922.56 Z" fill="#fff" stroke="#f2a050" stroke-width="1.3" stroke-linejoin="miter"/>
<path d="M317.30,915.60 L325.00,923.30 L317.30,931.00 L309.60,923.30 Z" fill="#fff" stroke="#f2a050" stroke-width="1.3" stroke-linejoin="miter"/>
<path d="M325.70,916.34 L333.40,924.04 L325.70,931.74 L318.00,924.04 Z" fill="#fff" stroke="#f2a050" stroke-width="1.3" stroke-linejoin="miter"/>
<path d="M334.11,917.08 L341.81,924.78 L334.11,932.48 L326.41,924.78 Z" fill="#fff" stroke="#f2a050" stroke-width="1.3" stroke-linejoin="miter"/>
<path d="M342.51,917.82 L350.21,925.52 L342.51,933.22 L334.81,925.52 Z" fill="#fff" stroke="#f2a050" stroke-width="1.3" stroke-linejoin="miter"/>
<path d="M350.92,918.56 L358.62,926.26 L350.92,933.96 L343.22,926.26 Z" fill="#fff" stroke="#f2a050" stroke-width="1.3" stroke-linejoin="miter"/>
<path d="M359.32,919.30 L367.02,927.00 L359.32,934.70 L351.62,927.00 Z" fill="#fff" stroke="#f2a050" stroke-width="1.3" stroke-linejoin="miter"/>
<path d="M367.72,920.20 L375.42,927.90 L367.72,935.60 L360.02,927.90 Z" fill="#fff" stroke="#f2a050" stroke-width="1.3" stroke-linejoin="miter"/>
<path d="M376.13,921.10 L383.83,928.80 L376.13,936.50 L368.43,928.80 Z" fill="#fff" stroke="#f2a050" stroke-width="1.3" stroke-linejoin="miter"/>
<path d="M384.53,922.00 L392.23,929.70 L384.53,937.40 L376.83,929.70 Z" fill="#fff" stroke="#f2a050" stroke-width="1.3" stroke-linejoin="miter"/>
<path d="M392.94,922.90 L400.64,930.60 L392.94,938.30 L385.24,930.60 Z" fill="#fff" stroke="#f2a050" stroke-width="1.3" stroke-linejoin="miter"/>
<path d="M401.34,923.80 L409.04,931.50 L401.34,939.20 L393.64,931.50 Z" fill="#fff" stroke="#f2a050" stroke-width="1.3" stroke-linejoin="miter"/>
<path d="M409.74,924.70 L417.44,932.40 L409.74,940.10 L402.04,932.40 Z" fill="#fff" stroke="#f2a050" stroke-width="1.3" stroke-linejoin="miter"/>
<path d="M418.15,925.60 L425.85,933.30 L418.15,941.00 L410.45,933.30 Z" fill="#fff" stroke="#f2a050" stroke-width="1.3" stroke-linejoin="miter"/>
<path d="M426.55,926.50 L434.25,934.20 L426.55,941.90 L418.85,934.20 Z" fill="#fff" stroke="#f2a050" stroke-width="1.3" stroke-linejoin="miter"/>
<path d="M434.96,927.40 L442.66,935.10 L434.96,942.80 L427.26,935.10 Z" fill="#fff" stroke="#f2a050" stroke-width="1.3" stroke-linejoin="miter"/>
<path d="M443.36,928.30 L451.06,936.00 L443.36,943.70 L435.66,936.00 Z" fill="#fff" stroke="#f2a050" stroke-width="1.3" stroke-linejoin="miter"/>
<path d="M451.76,929.18 L459.46,936.88 L451.76,944.58 L444.06,936.88 Z" fill="#fff" stroke="#f2a050" stroke-width="1.3" stroke-linejoin="miter"/>
<path d="M460.17,930.06 L467.87,937.76 L460.17,945.46 L452.47,937.76 Z" fill="#fff" stroke="#f2a050" stroke-width="1.3" stroke-linejoin="miter"/>
<path d="M468.57,930.94 L476.27,938.64 L468.57,946.34 L460.87,938.64 Z" fill="#fff" stroke="#f2a050" stroke-width="1.3" stroke-linejoin="miter"/>
<path d="M476.98,931.82 L484.68,939.52 L476.98,947.22 L469.28,939.52 Z" fill="#fff" stroke="#f2a050" stroke-width="1.3" stroke-linejoin="miter"/>
<path d="M485.38,932.70 L493.08,940.40 L485.38,948.10 L477.68,940.40 Z" fill="#fff" stroke="#f2a050" stroke-width="1.3" stroke-linejoin="miter"/>
<path d="M493.78,933.58 L501.48,941.28 L493.78,948.98 L486.08,941.28 Z" fill="#fff" stroke="#f2a050" stroke-width="1.3" stroke-linejoin="miter"/>
<path d="M502.19,934.46 L509.89,942.16 L502.19,949.86 L494.49,942.16 Z" fill="#fff" stroke="#f2a050" stroke-width="1.3" stroke-linejoin="miter"/>
<path d="M510.59,935.34 L518.29,943.04 L510.59,950.74 L502.89,943.04 Z" fill="#fff" stroke="#f2a050" stroke-width="1.3" stroke-linejoin="miter"/>
<path d="M519.00,936.22 L526.70,943.92 L519.00,951.62 L511.30,943.92 Z" fill="#fff" stroke="#f2a050" stroke-width="1.3" stroke-linejoin="miter"/>
<path d="M527.40,937.10 L535.10,944.80 L527.40,952.50 L519.70,944.80 Z" fill="#fff" stroke="#f2a050" stroke-width="1.3" stroke-linejoin="miter"/>
<path d="M115.60,902.10 L123.20,915.30 L108.00,915.30 Z" fill="#1896c2" stroke="#1896c2" stroke-width="1" stroke-linejoin="miter"/>
<path d="M124.01,940.40 L131.61,953.60 L116.41,953.60 Z" fill="#1896c2" stroke="#1896c2" stroke-width="1" stroke-linejoin="miter"/>
<path d="M132.41,942.00 L140.01,955.20 L124.81,955.20 Z" fill="#1896c2" stroke="#1896c2" stroke-width="1" stroke-linejoin="miter"/>
<path d="M140.82,943.60 L148.42,956.80 L133.22,956.80 Z" fill="#1896c2" stroke="#1896c2" stroke-width="1" stroke-linejoin="miter"/>
<path d="M149.22,945.20 L156.82,958.40 L141.62,958.40 Z" fill="#1896c2" stroke="#1896c2" stroke-width="1" stroke-linejoin="miter"/>
<path d="M157.62,946.80 L165.22,960.00 L150.02,960.00 Z" fill="#1896c2" stroke="#1896c2" stroke-width="1" stroke-linejoin="miter"/>
<path d="M166.03,948.40 L173.63,961.60 L158.43,961.60 Z" fill="#1896c2" stroke="#1896c2" stroke-width="1" stroke-linejoin="miter"/>
<path d="M174.43,950.00 L182.03,963.20 L166.83,963.20 Z" fill="#1896c2" stroke="#1896c2" stroke-width="1" stroke-linejoin="miter"/>
<path d="M182.84,951.60 L190.44,964.80 L175.24,964.80 Z" fill="#1896c2" stroke="#1896c2" stroke-width="1" stroke-linejoin="miter"/>
<path d="M191.24,953.20 L198.84,966.40 L183.64,966.40 Z" fill="#1896c2" stroke="#1896c2" stroke-width="1" stroke-linejoin="miter"/>
<path d="M199.64,954.80 L207.24,968.00 L192.04,968.00 Z" fill="#1896c2" stroke="#1896c2" stroke-width="1" stroke-linejoin="miter"/>
<path d="M208.05,956.40 L215.65,969.60 L200.45,969.60 Z" fill="#1896c2" stroke="#1896c2" stroke-width="1" stroke-linejoin="miter"/>
<path d="M216.45,957.96 L224.05,971.16 L208.85,971.16 Z" fill="#1896c2" stroke="#1896c2" stroke-width="1" stroke-linejoin="miter"/>
<path d="M224.86,959.52 L232.46,972.73 L217.26,972.73 Z" fill="#1896c2" stroke="#1896c2" stroke-width="1" stroke-linejoin="miter"/>
<path d="M233.26,961.09 L240.86,974.29 L225.66,974.29 Z" fill="#1896c2" stroke="#1896c2" stroke-width="1" stroke-linejoin="miter"/>
<path d="M241.66,962.65 L249.26,975.85 L234.06,975.85 Z" fill="#1896c2" stroke="#1896c2" stroke-width="1" stroke-linejoin="miter"/>
<path d="M250.07,964.21 L257.67,977.41 L242.47,977.41 Z" fill="#1896c2" stroke="#1896c2" stroke-width="1" stroke-linejoin="miter"/>
<path d="M258.47,965.77 L266.07,978.98 L250.87,978.98 Z" fill="#1896c2" stroke="#1896c2" stroke-width="1" stroke-linejoin="miter"/>
<path d="M266.88,967.34 L274.48,980.54 L259.28,980.54 Z" fill="#1896c2" stroke="#1896c2" stroke-width="1" stroke-linejoin="miter"/>
<path d="M275.28,968.90 L282.88,982.10 L267.68,982.10 Z" fill="#1896c2" stroke="#1896c2" stroke-width="1" stroke-linejoin="miter"/>
<path d="M283.68,969.93 L291.28,983.13 L276.08,983.13 Z" fill="#1896c2" stroke="#1896c2" stroke-width="1" stroke-linejoin="miter"/>
<path d="M292.09,970.97 L299.69,984.17 L284.49,984.17 Z" fill="#1896c2" stroke="#1896c2" stroke-width="1" stroke-linejoin="miter"/>
<path d="M300.49,972.00 L308.09,985.20 L292.89,985.20 Z" fill="#1896c2" stroke="#1896c2" stroke-width="1" stroke-linejoin="miter"/>
<path d="M308.90,973.03 L316.50,986.23 L301.30,986.23 Z" fill="#1896c2" stroke="#1896c2" stroke-width="1" stroke-linejoin="miter"/>
<path d="M317.30,974.07 L324.90,987.27 L309.70,987.27 Z" fill="#1896c2" stroke="#1896c2" stroke-width="1" stroke-linejoin="miter"/>
<path d="M325.70,975.10 L333.30,988.30 L318.10,988.30 Z" fill="#1896c2" stroke="#1896c2" stroke-width="1" stroke-linejoin="miter"/>
<path d="M334.11,976.13 L341.71,989.33 L326.51,989.33 Z" fill="#1896c2" stroke="#1896c2" stroke-width="1" stroke-linejoin="miter"/>
<path d="M342.51,977.17 L350.11,990.37 L334.91,990.37 Z" fill="#1896c2" stroke="#1896c2" stroke-width="1" stroke-linejoin="miter"/>
<path d="M350.92,978.20 L358.52,991.40 L343.32,991.40 Z" fill="#1896c2" stroke="#1896c2" stroke-width="1" stroke-linejoin="miter"/>
<path d="M359.32,979.23 L366.92,992.43 L351.72,992.43 Z" fill="#1896c2" stroke="#1896c2" stroke-width="1" stroke-linejoin="miter"/>
<path d="M367.72,980.27 L375.32,993.47 L360.12,993.47 Z" fill="#1896c2" stroke="#1896c2" stroke-width="1" stroke-linejoin="miter"/>
<path d="M376.13,981.30 L383.73,994.50 L368.53,994.50 Z" fill="#1896c2" stroke="#1896c2" stroke-width="1" stroke-linejoin="miter"/>
<path d="M384.53,982.33 L392.13,995.53 L376.93,995.53 Z" fill="#1896c2" stroke="#1896c2" stroke-width="1" stroke-linejoin="miter"/>
<path d="M392.94,983.37 L400.54,996.57 L385.34,996.57 Z" fill="#1896c2" stroke="#1896c2" stroke-width="1" stroke-linejoin="miter"/>
<path d="M401.34,984.40 L408.94,997.60 L393.74,997.60 Z" fill="#1896c2" stroke="#1896c2" stroke-width="1" stroke-linejoin="miter"/>
<path d="M409.74,985.60 L417.34,998.80 L402.14,998.80 Z" fill="#1896c2" stroke="#1896c2" stroke-width="1" stroke-linejoin="miter"/>
<path d="M418.15,986.80 L425.75,1000.00 L410.55,1000.00 Z" fill="#1896c2" stroke="#1896c2" stroke-width="1" stroke-linejoin="miter"/>
<path d="M426.55,988.00 L434.15,1001.20 L418.95,1001.20 Z" fill="#1896c2" stroke="#1896c2" stroke-width="1" stroke-linejoin="miter"/>
<path d="M434.96,989.20 L442.56,1002.40 L427.36,1002.40 Z" fill="#1896c2" stroke="#1896c2" stroke-width="1" stroke-linejoin="miter"/>
<path d="M443.36,990.40 L450.96,1003.60 L435.76,1003.60 Z" fill="#1896c2" stroke="#1896c2" stroke-width="1" stroke-linejoin="miter"/>
<path d="M451.76,991.40 L459.36,1004.60 L444.16,1004.60 Z" fill="#1896c2" stroke="#1896c2" stroke-width="1" stroke-linejoin="miter"/>
<path d="M460.17,992.40 L467.77,1005.60 L452.57,1005.60 Z" fill="#1896c2" stroke="#1896c2" stroke-width="1" stroke-linejoin="miter"/>
<path d="M468.57,993.40 L476.17,1006.60 L460.97,1006.60 Z" fill="#1896c2" stroke="#1896c2" stroke-width="1" stroke-linejoin="miter"/>
<path d="M476.98,994.40 L484.58,1007.60 L469.38,1007.60 Z" fill="#1896c2" stroke="#1896c2" stroke-width="1" stroke-linejoin="miter"/>
<path d="M485.38,995.40 L492.98,1008.60 L477.78,1008.60 Z" fill="#1896c2" stroke="#1896c2" stroke-width="1" stroke-linejoin="miter"/>
<path d="M493.78,996.40 L501.38,1009.60 L486.18,1009.60 Z" fill="#1896c2" stroke="#1896c2" stroke-width="1" stroke-linejoin="miter"/>
<path d="M502.19,997.40 L509.79,1010.60 L494.59,1010.60 Z" fill="#1896c2" stroke="#1896c2" stroke-width="1" stroke-linejoin="miter"/>
<path d="M510.59,998.40 L518.19,1011.60 L502.99,1011.60 Z" fill="#1896c2" stroke="#1896c2" stroke-width="1" stroke-linejoin="miter"/>
<path d="M519.00,999.40 L526.60,1012.60 L511.40,1012.60 Z" fill="#1896c2" stroke="#1896c2" stroke-width="1" stroke-linejoin="miter"/>
<path d="M527.40,1000.40 L535.00,1013.60 L519.80,1013.60 Z" fill="#1896c2" stroke="#1896c2" stroke-width="1" stroke-linejoin="miter"/>
<path d="M124.01,934.00 L131.01,946.00 L117.01,946.00 Z" fill="#fff" stroke="#2aa0c8" stroke-width="1.3" stroke-linejoin="miter"/>
<path d="M132.41,937.00 L139.41,949.00 L125.41,949.00 Z" fill="#fff" stroke="#2aa0c8" stroke-width="1.3" stroke-linejoin="miter"/>
<path d="M140.82,938.55 L147.82,950.55 L133.82,950.55 Z" fill="#fff" stroke="#2aa0c8" stroke-width="1.3" stroke-linejoin="miter"/>
<path d="M149.22,940.10 L156.22,952.10 L142.22,952.10 Z" fill="#fff" stroke="#2aa0c8" stroke-width="1.3" stroke-linejoin="miter"/>
<path d="M157.62,941.65 L164.62,953.65 L150.62,953.65 Z" fill="#fff" stroke="#2aa0c8" stroke-width="1.3" stroke-linejoin="miter"/>
<path d="M166.03,943.20 L173.03,955.20 L159.03,955.20 Z" fill="#fff" stroke="#2aa0c8" stroke-width="1.3" stroke-linejoin="miter"/>
<path d="M174.43,944.75 L181.43,956.75 L167.43,956.75 Z" fill="#fff" stroke="#2aa0c8" stroke-width="1.3" stroke-linejoin="miter"/>
<path d="M182.84,946.30 L189.84,958.30 L175.84,958.30 Z" fill="#fff" stroke="#2aa0c8" stroke-width="1.3" stroke-linejoin="miter"/>
<path d="M191.24,947.55 L198.24,959.55 L184.24,959.55 Z" fill="#fff" stroke="#2aa0c8" stroke-width="1.3" stroke-linejoin="miter"/>
<path d="M199.64,948.80 L206.64,960.80 L192.64,960.80 Z" fill="#fff" stroke="#2aa0c8" stroke-width="1.3" stroke-linejoin="miter"/>
<path d="M208.05,950.49 L215.05,962.49 L201.05,962.49 Z" fill="#fff" stroke="#2aa0c8" stroke-width="1.3" stroke-linejoin="miter"/>
<path d="M216.45,952.18 L223.45,964.18 L209.45,964.18 Z" fill="#fff" stroke="#2aa0c8" stroke-width="1.3" stroke-linejoin="miter"/>
<path d="M224.86,953.87 L231.86,965.87 L217.86,965.87 Z" fill="#fff" stroke="#2aa0c8" stroke-width="1.3" stroke-linejoin="miter"/>
<path d="M233.26,955.56 L240.26,967.56 L226.26,967.56 Z" fill="#fff" stroke="#2aa0c8" stroke-width="1.3" stroke-linejoin="miter"/>
<path d="M241.66,957.24 L248.66,969.24 L234.66,969.24 Z" fill="#fff" stroke="#2aa0c8" stroke-width="1.3" stroke-linejoin="miter"/>
<path d="M250.07,958.93 L257.07,970.93 L243.07,970.93 Z" fill="#fff" stroke="#2aa0c8" stroke-width="1.3" stroke-linejoin="miter"/>
<path d="M258.47,960.62 L265.47,972.62 L251.47,972.62 Z" fill="#fff" stroke="#2aa0c8" stroke-width="1.3" stroke-linejoin="miter"/>
<path d="M266.88,962.31 L273.88,974.31 L259.88,974.31 Z" fill="#fff" stroke="#2aa0c8" stroke-width="1.3" stroke-linejoin="miter"/>
<path d="M275.28,964.00 L282.28,976.00 L268.28,976.00 Z" fill="#fff" stroke="#2aa0c8" stroke-width="1.3" stroke-linejoin="miter"/>
<path d="M283.68,964.73 L290.68,976.73 L276.68,976.73 Z" fill="#fff" stroke="#2aa0c8" stroke-width="1.3" stroke-linejoin="miter"/>
<path d="M292.09,965.47 L299.09,977.47 L285.09,977.47 Z" fill="#fff" stroke="#2aa0c8" stroke-width="1.3" stroke-linejoin="miter"/>
<path d="M300.49,966.20 L307.49,978.20 L293.49,978.20 Z" fill="#fff" stroke="#2aa0c8" stroke-width="1.3" stroke-linejoin="miter"/>
<path d="M308.90,966.93 L315.90,978.93 L301.90,978.93 Z" fill="#fff" stroke="#2aa0c8" stroke-width="1.3" stroke-linejoin="miter"/>
<path d="M317.30,967.67 L324.30,979.67 L310.30,979.67 Z" fill="#fff" stroke="#2aa0c8" stroke-width="1.3" stroke-linejoin="miter"/>
<path d="M325.70,968.40 L332.70,980.40 L318.70,980.40 Z" fill="#fff" stroke="#2aa0c8" stroke-width="1.3" stroke-linejoin="miter"/>
<path d="M334.11,969.13 L341.11,981.13 L327.11,981.13 Z" fill="#fff" stroke="#2aa0c8" stroke-width="1.3" stroke-linejoin="miter"/>
<path d="M342.51,969.87 L349.51,981.87 L335.51,981.87 Z" fill="#fff" stroke="#2aa0c8" stroke-width="1.3" stroke-linejoin="miter"/>
<path d="M350.92,970.60 L357.92,982.60 L343.92,982.60 Z" fill="#fff" stroke="#2aa0c8" stroke-width="1.3" stroke-linejoin="miter"/>
<path d="M359.32,971.33 L366.32,983.33 L352.32,983.33 Z" fill="#fff" stroke="#2aa0c8" stroke-width="1.3" stroke-linejoin="miter"/>
<path d="M367.72,972.07 L374.72,984.07 L360.72,984.07 Z" fill="#fff" stroke="#2aa0c8" stroke-width="1.3" stroke-linejoin="miter"/>
<path d="M376.13,972.80 L383.13,984.80 L369.13,984.80 Z" fill="#fff" stroke="#2aa0c8" stroke-width="1.3" stroke-linejoin="miter"/>
<path d="M384.53,973.53 L391.53,985.53 L377.53,985.53 Z" fill="#fff" stroke="#2aa0c8" stroke-width="1.3" stroke-linejoin="miter"/>
<path d="M392.94,974.27 L399.94,986.27 L385.94,986.27 Z" fill="#fff" stroke="#2aa0c8" stroke-width="1.3" stroke-linejoin="miter"/>
<path d="M401.34,975.00 L408.34,987.00 L394.34,987.00 Z" fill="#fff" stroke="#2aa0c8" stroke-width="1.3" stroke-linejoin="miter"/>
<path d="M409.74,976.90 L416.74,988.90 L402.74,988.90 Z" fill="#fff" stroke="#2aa0c8" stroke-width="1.3" stroke-linejoin="miter"/>
<path d="M418.15,978.80 L425.15,990.80 L411.15,990.80 Z" fill="#fff" stroke="#2aa0c8" stroke-width="1.3" stroke-linejoin="miter"/>
<path d="M426.55,980.70 L433.55,992.70 L419.55,992.70 Z" fill="#fff" stroke="#2aa0c8" stroke-width="1.3" stroke-linejoin="miter"/>
<path d="M434.96,982.60 L441.96,994.60 L427.96,994.60 Z" fill="#fff" stroke="#2aa0c8" stroke-width="1.3" stroke-linejoin="miter"/>
<path d="M443.36,984.50 L450.36,996.50 L436.36,996.50 Z" fill="#fff" stroke="#2aa0c8" stroke-width="1.3" stroke-linejoin="miter"/>
<path d="M451.76,985.57 L458.76,997.57 L444.76,997.57 Z" fill="#fff" stroke="#2aa0c8" stroke-width="1.3" stroke-linejoin="miter"/>
<path d="M460.17,986.64 L467.17,998.64 L453.17,998.64 Z" fill="#fff" stroke="#2aa0c8" stroke-width="1.3" stroke-linejoin="miter"/>
<path d="M468.57,987.71 L475.57,999.71 L461.57,999.71 Z" fill="#fff" stroke="#2aa0c8" stroke-width="1.3" stroke-linejoin="miter"/>
<path d="M476.98,988.78 L483.98,1000.78 L469.98,1000.78 Z" fill="#fff" stroke="#2aa0c8" stroke-width="1.3" stroke-linejoin="miter"/>
<path d="M485.38,989.85 L492.38,1001.85 L478.38,1001.85 Z" fill="#fff" stroke="#2aa0c8" stroke-width="1.3" stroke-linejoin="miter"/>
<path d="M493.78,990.92 L500.78,1002.92 L486.78,1002.92 Z" fill="#fff" stroke="#2aa0c8" stroke-width="1.3" stroke-linejoin="miter"/>
<path d="M502.19,991.99 L509.19,1003.99 L495.19,1003.99 Z" fill="#fff" stroke="#2aa0c8" stroke-width="1.3" stroke-linejoin="miter"/>
<path d="M510.59,993.06 L517.59,1005.06 L503.59,1005.06 Z" fill="#fff" stroke="#2aa0c8" stroke-width="1.3" stroke-linejoin="miter"/>
<path d="M519.00,994.13 L526.00,1006.13 L512.00,1006.13 Z" fill="#fff" stroke="#2aa0c8" stroke-width="1.3" stroke-linejoin="miter"/>
<path d="M527.40,995.20 L534.40,1007.20 L520.40,1007.20 Z" fill="#fff" stroke="#2aa0c8" stroke-width="1.3" stroke-linejoin="miter"/>
<path d="M132.41,1007.80 L140.11,1015.50 L132.41,1023.20 L124.71,1015.50 Z" fill="#f07a2b" stroke="#1a1a1a" stroke-width="2.1" stroke-linejoin="miter"/>
<path d="M140.82,1009.50 L148.52,1017.20 L140.82,1024.90 L133.12,1017.20 Z" fill="#f07a2b" stroke="#1a1a1a" stroke-width="2.1" stroke-linejoin="miter"/>
<path d="M149.22,1015.90 L156.92,1023.60 L149.22,1031.30 L141.52,1023.60 Z" fill="#f07a2b" stroke="#1a1a1a" stroke-width="2.1" stroke-linejoin="miter"/>
<path d="M157.62,1013.30 L165.32,1021.00 L157.62,1028.70 L149.92,1021.00 Z" fill="#f07a2b" stroke="#1a1a1a" stroke-width="2.1" stroke-linejoin="miter"/>
<path d="M166.03,1011.70 L173.73,1019.40 L166.03,1027.10 L158.33,1019.40 Z" fill="#f07a2b" stroke="#1a1a1a" stroke-width="2.1" stroke-linejoin="miter"/>
<path d="M174.43,1005.80 L182.13,1013.50 L174.43,1021.20 L166.73,1013.50 Z" fill="#f07a2b" stroke="#1a1a1a" stroke-width="2.1" stroke-linejoin="miter"/>
<path d="M182.84,1003.20 L190.54,1010.90 L182.84,1018.60 L175.14,1010.90 Z" fill="#f07a2b" stroke="#1a1a1a" stroke-width="2.1" stroke-linejoin="miter"/>
<path d="M191.24,1006.00 L198.94,1013.70 L191.24,1021.40 L183.54,1013.70 Z" fill="#f07a2b" stroke="#1a1a1a" stroke-width="2.1" stroke-linejoin="miter"/>
<path d="M199.64,1006.80 L207.34,1014.50 L199.64,1022.20 L191.94,1014.50 Z" fill="#f07a2b" stroke="#1a1a1a" stroke-width="2.1" stroke-linejoin="miter"/>
<path d="M208.05,1007.60 L215.75,1015.30 L208.05,1023.00 L200.35,1015.30 Z" fill="#f07a2b" stroke="#1a1a1a" stroke-width="2.1" stroke-linejoin="miter"/>
<path d="M216.45,1009.30 L224.15,1017.00 L216.45,1024.70 L208.75,1017.00 Z" fill="#f07a2b" stroke="#1a1a1a" stroke-width="2.1" stroke-linejoin="miter"/>
<path d="M224.86,1011.00 L232.56,1018.70 L224.86,1026.40 L217.16,1018.70 Z" fill="#f07a2b" stroke="#1a1a1a" stroke-width="2.1" stroke-linejoin="miter"/>
<path d="M233.26,1009.30 L240.96,1017.00 L233.26,1024.70 L225.56,1017.00 Z" fill="#f07a2b" stroke="#1a1a1a" stroke-width="2.1" stroke-linejoin="miter"/>
<path d="M241.66,1011.00 L249.36,1018.70 L241.66,1026.40 L233.96,1018.70 Z" fill="#f07a2b" stroke="#1a1a1a" stroke-width="2.1" stroke-linejoin="miter"/>
<path d="M250.07,1011.80 L257.77,1019.50 L250.07,1027.20 L242.37,1019.50 Z" fill="#f07a2b" stroke="#1a1a1a" stroke-width="2.1" stroke-linejoin="miter"/>
<path d="M258.47,1011.00 L266.17,1018.70 L258.47,1026.40 L250.77,1018.70 Z" fill="#f07a2b" stroke="#1a1a1a" stroke-width="2.1" stroke-linejoin="miter"/>
<path d="M266.88,1013.60 L274.58,1021.30 L266.88,1029.00 L259.18,1021.30 Z" fill="#f07a2b" stroke="#1a1a1a" stroke-width="2.1" stroke-linejoin="miter"/>
<path d="M275.28,1016.30 L282.98,1024.00 L275.28,1031.70 L267.58,1024.00 Z" fill="#f07a2b" stroke="#1a1a1a" stroke-width="2.1" stroke-linejoin="miter"/>
<path d="M283.68,1014.30 L291.38,1022.00 L283.68,1029.70 L275.98,1022.00 Z" fill="#f07a2b" stroke="#1a1a1a" stroke-width="2.1" stroke-linejoin="miter"/>
<path d="M292.09,1016.00 L299.79,1023.70 L292.09,1031.40 L284.39,1023.70 Z" fill="#f07a2b" stroke="#1a1a1a" stroke-width="2.1" stroke-linejoin="miter"/>
<path d="M300.49,1017.60 L308.19,1025.30 L300.49,1033.00 L292.79,1025.30 Z" fill="#f07a2b" stroke="#1a1a1a" stroke-width="2.1" stroke-linejoin="miter"/>
<path d="M308.90,1021.80 L316.60,1029.50 L308.90,1037.20 L301.20,1029.50 Z" fill="#f07a2b" stroke="#1a1a1a" stroke-width="2.1" stroke-linejoin="miter"/>
<path d="M317.30,1023.60 L325.00,1031.30 L317.30,1039.00 L309.60,1031.30 Z" fill="#f07a2b" stroke="#1a1a1a" stroke-width="2.1" stroke-linejoin="miter"/>
<path d="M325.70,1023.60 L333.40,1031.30 L325.70,1039.00 L318.00,1031.30 Z" fill="#f07a2b" stroke="#1a1a1a" stroke-width="2.1" stroke-linejoin="miter"/>
<path d="M334.11,1024.30 L341.81,1032.00 L334.11,1039.70 L326.41,1032.00 Z" fill="#f07a2b" stroke="#1a1a1a" stroke-width="2.1" stroke-linejoin="miter"/>
<path d="M342.51,1027.80 L350.21,1035.50 L342.51,1043.20 L334.81,1035.50 Z" fill="#f07a2b" stroke="#1a1a1a" stroke-width="2.1" stroke-linejoin="miter"/>
<path d="M350.92,1030.30 L358.62,1038.00 L350.92,1045.70 L343.22,1038.00 Z" fill="#f07a2b" stroke="#1a1a1a" stroke-width="2.1" stroke-linejoin="miter"/>
<path d="M359.32,1031.30 L367.02,1039.00 L359.32,1046.70 L351.62,1039.00 Z" fill="#f07a2b" stroke="#1a1a1a" stroke-width="2.1" stroke-linejoin="miter"/>
<path d="M367.72,1031.80 L375.42,1039.50 L367.72,1047.20 L360.02,1039.50 Z" fill="#f07a2b" stroke="#1a1a1a" stroke-width="2.1" stroke-linejoin="miter"/>
<path d="M376.13,1034.30 L383.83,1042.00 L376.13,1049.70 L368.43,1042.00 Z" fill="#f07a2b" stroke="#1a1a1a" stroke-width="2.1" stroke-linejoin="miter"/>
<path d="M384.53,1036.80 L392.23,1044.50 L384.53,1052.20 L376.83,1044.50 Z" fill="#f07a2b" stroke="#1a1a1a" stroke-width="2.1" stroke-linejoin="miter"/>
<path d="M392.94,1038.60 L400.64,1046.30 L392.94,1054.00 L385.24,1046.30 Z" fill="#f07a2b" stroke="#1a1a1a" stroke-width="2.1" stroke-linejoin="miter"/>
<path d="M401.34,1040.30 L409.04,1048.00 L401.34,1055.70 L393.64,1048.00 Z" fill="#f07a2b" stroke="#1a1a1a" stroke-width="2.1" stroke-linejoin="miter"/>
<path d="M409.74,1040.30 L417.44,1048.00 L409.74,1055.70 L402.04,1048.00 Z" fill="#f07a2b" stroke="#1a1a1a" stroke-width="2.1" stroke-linejoin="miter"/>
<path d="M418.15,1039.30 L425.85,1047.00 L418.15,1054.70 L410.45,1047.00 Z" fill="#f07a2b" stroke="#1a1a1a" stroke-width="2.1" stroke-linejoin="miter"/>
<path d="M426.55,1042.80 L434.25,1050.50 L426.55,1058.20 L418.85,1050.50 Z" fill="#f07a2b" stroke="#1a1a1a" stroke-width="2.1" stroke-linejoin="miter"/>
<path d="M434.96,1042.00 L442.66,1049.70 L434.96,1057.40 L427.26,1049.70 Z" fill="#f07a2b" stroke="#1a1a1a" stroke-width="2.1" stroke-linejoin="miter"/>
<path d="M443.36,1042.70 L451.06,1050.40 L443.36,1058.10 L435.66,1050.40 Z" fill="#f07a2b" stroke="#1a1a1a" stroke-width="2.1" stroke-linejoin="miter"/>
<path d="M451.76,1043.10 L459.46,1050.80 L451.76,1058.50 L444.06,1050.80 Z" fill="#f07a2b" stroke="#1a1a1a" stroke-width="2.1" stroke-linejoin="miter"/>
<path d="M460.17,1042.80 L467.87,1050.50 L460.17,1058.20 L452.47,1050.50 Z" fill="#f07a2b" stroke="#1a1a1a" stroke-width="2.1" stroke-linejoin="miter"/>
<path d="M468.57,1042.70 L476.27,1050.40 L468.57,1058.10 L460.87,1050.40 Z" fill="#f07a2b" stroke="#1a1a1a" stroke-width="2.1" stroke-linejoin="miter"/>
<path d="M476.98,1048.60 L484.68,1056.30 L476.98,1064.00 L469.28,1056.30 Z" fill="#f07a2b" stroke="#1a1a1a" stroke-width="2.1" stroke-linejoin="miter"/>
<path d="M485.38,1047.80 L493.08,1055.50 L485.38,1063.20 L477.68,1055.50 Z" fill="#f07a2b" stroke="#1a1a1a" stroke-width="2.1" stroke-linejoin="miter"/>
<path d="M493.78,1047.80 L501.48,1055.50 L493.78,1063.20 L486.08,1055.50 Z" fill="#f07a2b" stroke="#1a1a1a" stroke-width="2.1" stroke-linejoin="miter"/>
<path d="M502.19,1047.00 L509.89,1054.70 L502.19,1062.40 L494.49,1054.70 Z" fill="#f07a2b" stroke="#1a1a1a" stroke-width="2.1" stroke-linejoin="miter"/>
<path d="M510.59,1047.80 L518.29,1055.50 L510.59,1063.20 L502.89,1055.50 Z" fill="#f07a2b" stroke="#1a1a1a" stroke-width="2.1" stroke-linejoin="miter"/>
<path d="M519.00,1047.80 L526.70,1055.50 L519.00,1063.20 L511.30,1055.50 Z" fill="#f07a2b" stroke="#1a1a1a" stroke-width="2.1" stroke-linejoin="miter"/>
<path d="M527.40,1045.80 L535.10,1053.50 L527.40,1061.20 L519.70,1053.50 Z" fill="#f07a2b" stroke="#1a1a1a" stroke-width="2.1" stroke-linejoin="miter"/>
<path d="M124.01,1084.80 L131.21,1097.40 L116.81,1097.40 Z" fill="#1790be" stroke="#111" stroke-width="2.3" stroke-linejoin="miter"/>
<path d="M132.41,1055.70 L139.61,1068.30 L125.21,1068.30 Z" fill="#1790be" stroke="#111" stroke-width="2.3" stroke-linejoin="miter"/>
<path d="M140.82,1046.90 L148.02,1059.50 L133.62,1059.50 Z" fill="#1790be" stroke="#111" stroke-width="2.3" stroke-linejoin="miter"/>
<path d="M149.22,1038.70 L156.42,1051.30 L142.02,1051.30 Z" fill="#1790be" stroke="#111" stroke-width="2.3" stroke-linejoin="miter"/>
<path d="M157.62,1053.00 L164.82,1065.60 L150.42,1065.60 Z" fill="#1790be" stroke="#111" stroke-width="2.3" stroke-linejoin="miter"/>
<path d="M166.03,1049.20 L173.23,1061.80 L158.83,1061.80 Z" fill="#1790be" stroke="#111" stroke-width="2.3" stroke-linejoin="miter"/>
<path d="M174.43,1043.50 L181.63,1056.10 L167.23,1056.10 Z" fill="#1790be" stroke="#111" stroke-width="2.3" stroke-linejoin="miter"/>
<path d="M182.84,1057.20 L190.04,1069.80 L175.64,1069.80 Z" fill="#1790be" stroke="#111" stroke-width="2.3" stroke-linejoin="miter"/>
<path d="M191.24,1043.70 L198.44,1056.30 L184.04,1056.30 Z" fill="#1790be" stroke="#111" stroke-width="2.3" stroke-linejoin="miter"/>
<path d="M199.64,1059.70 L206.84,1072.30 L192.44,1072.30 Z" fill="#1790be" stroke="#111" stroke-width="2.3" stroke-linejoin="miter"/>
<path d="M208.05,1048.70 L215.25,1061.30 L200.85,1061.30 Z" fill="#1790be" stroke="#111" stroke-width="2.3" stroke-linejoin="miter"/>
<path d="M216.45,1060.40 L223.65,1073.00 L209.25,1073.00 Z" fill="#1790be" stroke="#111" stroke-width="2.3" stroke-linejoin="miter"/>
<path d="M224.86,1059.10 L232.06,1071.70 L217.66,1071.70 Z" fill="#1790be" stroke="#111" stroke-width="2.3" stroke-linejoin="miter"/>
<path d="M233.26,1060.10 L240.46,1072.70 L226.06,1072.70 Z" fill="#1790be" stroke="#111" stroke-width="2.3" stroke-linejoin="miter"/>
<path d="M241.66,1061.10 L248.86,1073.70 L234.46,1073.70 Z" fill="#1790be" stroke="#111" stroke-width="2.3" stroke-linejoin="miter"/>
<path d="M250.07,1053.50 L257.27,1066.10 L242.87,1066.10 Z" fill="#1790be" stroke="#111" stroke-width="2.3" stroke-linejoin="miter"/>
<path d="M258.47,1071.90 L265.67,1084.50 L251.27,1084.50 Z" fill="#1790be" stroke="#111" stroke-width="2.3" stroke-linejoin="miter"/>
<path d="M266.88,1062.70 L274.08,1075.30 L259.68,1075.30 Z" fill="#1790be" stroke="#111" stroke-width="2.3" stroke-linejoin="miter"/>
<path d="M275.28,1070.20 L282.48,1082.80 L268.08,1082.80 Z" fill="#1790be" stroke="#111" stroke-width="2.3" stroke-linejoin="miter"/>
<path d="M283.68,1069.90 L290.88,1082.50 L276.48,1082.50 Z" fill="#1790be" stroke="#111" stroke-width="2.3" stroke-linejoin="miter"/>
<path d="M292.09,1070.70 L299.29,1083.30 L284.89,1083.30 Z" fill="#1790be" stroke="#111" stroke-width="2.3" stroke-linejoin="miter"/>
<path d="M300.49,1070.70 L307.69,1083.30 L293.29,1083.30 Z" fill="#1790be" stroke="#111" stroke-width="2.3" stroke-linejoin="miter"/>
<path d="M308.90,1071.70 L316.10,1084.30 L301.70,1084.30 Z" fill="#1790be" stroke="#111" stroke-width="2.3" stroke-linejoin="miter"/>
<path d="M317.30,1079.00 L324.50,1091.60 L310.10,1091.60 Z" fill="#1790be" stroke="#111" stroke-width="2.3" stroke-linejoin="miter"/>
<path d="M325.70,1082.70 L332.90,1095.30 L318.50,1095.30 Z" fill="#1790be" stroke="#111" stroke-width="2.3" stroke-linejoin="miter"/>
<path d="M334.11,1084.30 L341.31,1096.90 L326.91,1096.90 Z" fill="#1790be" stroke="#111" stroke-width="2.3" stroke-linejoin="miter"/>
<path d="M342.51,1072.50 L349.71,1085.10 L335.31,1085.10 Z" fill="#1790be" stroke="#111" stroke-width="2.3" stroke-linejoin="miter"/>
<path d="M350.92,1077.20 L358.12,1089.80 L343.72,1089.80 Z" fill="#1790be" stroke="#111" stroke-width="2.3" stroke-linejoin="miter"/>
<path d="M359.32,1077.60 L366.52,1090.20 L352.12,1090.20 Z" fill="#1790be" stroke="#111" stroke-width="2.3" stroke-linejoin="miter"/>
<path d="M367.72,1075.70 L374.92,1088.30 L360.52,1088.30 Z" fill="#1790be" stroke="#111" stroke-width="2.3" stroke-linejoin="miter"/>
<path d="M376.13,1078.90 L383.33,1091.50 L368.93,1091.50 Z" fill="#1790be" stroke="#111" stroke-width="2.3" stroke-linejoin="miter"/>
<path d="M384.53,1078.90 L391.73,1091.50 L377.33,1091.50 Z" fill="#1790be" stroke="#111" stroke-width="2.3" stroke-linejoin="miter"/>
<path d="M392.94,1078.40 L400.14,1091.00 L385.74,1091.00 Z" fill="#1790be" stroke="#111" stroke-width="2.3" stroke-linejoin="miter"/>
<path d="M401.34,1080.60 L408.54,1093.20 L394.14,1093.20 Z" fill="#1790be" stroke="#111" stroke-width="2.3" stroke-linejoin="miter"/>
<path d="M409.74,1076.50 L416.94,1089.10 L402.54,1089.10 Z" fill="#1790be" stroke="#111" stroke-width="2.3" stroke-linejoin="miter"/>
<path d="M418.15,1075.70 L425.35,1088.30 L410.95,1088.30 Z" fill="#1790be" stroke="#111" stroke-width="2.3" stroke-linejoin="miter"/>
<path d="M426.55,1089.70 L433.75,1102.30 L419.35,1102.30 Z" fill="#1790be" stroke="#111" stroke-width="2.3" stroke-linejoin="miter"/>
<path d="M434.96,1093.70 L442.16,1106.30 L427.76,1106.30 Z" fill="#1790be" stroke="#111" stroke-width="2.3" stroke-linejoin="miter"/>
<path d="M443.36,1089.70 L450.56,1102.30 L436.16,1102.30 Z" fill="#1790be" stroke="#111" stroke-width="2.3" stroke-linejoin="miter"/>
<path d="M451.76,1080.60 L458.96,1093.20 L444.56,1093.20 Z" fill="#1790be" stroke="#111" stroke-width="2.3" stroke-linejoin="miter"/>
<path d="M460.17,1085.90 L467.37,1098.50 L452.97,1098.50 Z" fill="#1790be" stroke="#111" stroke-width="2.3" stroke-linejoin="miter"/>
<path d="M468.57,1082.00 L475.77,1094.60 L461.37,1094.60 Z" fill="#1790be" stroke="#111" stroke-width="2.3" stroke-linejoin="miter"/>
<path d="M476.98,1075.20 L484.18,1087.80 L469.78,1087.80 Z" fill="#1790be" stroke="#111" stroke-width="2.3" stroke-linejoin="miter"/>
<path d="M485.38,1075.20 L492.58,1087.80 L478.18,1087.80 Z" fill="#1790be" stroke="#111" stroke-width="2.3" stroke-linejoin="miter"/>
<path d="M493.78,1087.70 L500.98,1100.30 L486.58,1100.30 Z" fill="#1790be" stroke="#111" stroke-width="2.3" stroke-linejoin="miter"/>
<path d="M502.19,1087.70 L509.39,1100.30 L494.99,1100.30 Z" fill="#1790be" stroke="#111" stroke-width="2.3" stroke-linejoin="miter"/>
<path d="M510.59,1074.50 L517.79,1087.10 L503.39,1087.10 Z" fill="#1790be" stroke="#111" stroke-width="2.3" stroke-linejoin="miter"/>
<path d="M519.00,1091.70 L526.20,1104.30 L511.80,1104.30 Z" fill="#1790be" stroke="#111" stroke-width="2.3" stroke-linejoin="miter"/>
<path d="M527.40,1075.20 L534.60,1087.80 L520.20,1087.80 Z" fill="#1790be" stroke="#111" stroke-width="2.3" stroke-linejoin="miter"/>
<path d="M107.2,1211 L107.2,858 L527.4,858 L527.4,1211 Z" fill="none" stroke="#363636" stroke-width="2.1" stroke-linejoin="miter"/>
<text transform="translate(96.2,1220.3) scale(1,1.12)" font-size="20.8" font-weight="normal" text-anchor="end" fill="#2a2a2a">0</text>
<line x1="107.20" y1="1177.38" x2="111.20" y2="1177.38" stroke="#363636" stroke-width="2.0"/>
<line x1="107.20" y1="1143.76" x2="114.20" y2="1143.76" stroke="#363636" stroke-width="2.0"/>
<text transform="translate(96.2,1153.06) scale(1,1.12)" font-size="20.8" font-weight="normal" text-anchor="end" fill="#2a2a2a">200</text>
<line x1="107.20" y1="1110.14" x2="111.20" y2="1110.14" stroke="#363636" stroke-width="2.0"/>
<line x1="107.20" y1="1076.52" x2="114.20" y2="1076.52" stroke="#363636" stroke-width="2.0"/>
<text transform="translate(96.2,1085.82) scale(1,1.12)" font-size="20.8" font-weight="normal" text-anchor="end" fill="#2a2a2a">400</text>
<line x1="107.20" y1="1042.90" x2="111.20" y2="1042.90" stroke="#363636" stroke-width="2.0"/>
<line x1="107.20" y1="1009.28" x2="114.20" y2="1009.28" stroke="#363636" stroke-width="2.0"/>
<text transform="translate(96.2,1018.5799999999999) scale(1,1.12)" font-size="20.8" font-weight="normal" text-anchor="end" fill="#2a2a2a">600</text>
<line x1="107.20" y1="975.66" x2="111.20" y2="975.66" stroke="#363636" stroke-width="2.0"/>
<line x1="107.20" y1="942.04" x2="114.20" y2="942.04" stroke="#363636" stroke-width="2.0"/>
<text transform="translate(96.2,951.3399999999999) scale(1,1.12)" font-size="20.8" font-weight="normal" text-anchor="end" fill="#2a2a2a">800</text>
<line x1="107.20" y1="908.42" x2="111.20" y2="908.42" stroke="#363636" stroke-width="2.0"/>
<line x1="107.20" y1="874.80" x2="114.20" y2="874.80" stroke="#363636" stroke-width="2.0"/>
<text transform="translate(96.2,884.0999999999999) scale(1,1.12)" font-size="20.8" font-weight="normal" text-anchor="end" fill="#2a2a2a">1000</text>
<text transform="translate(536.4,1220.3) scale(1,1.12)" font-size="20.8" font-weight="normal" text-anchor="start" fill="#2a2a2a">96</text>
<line x1="527.40" y1="1171.70" x2="523.40" y2="1171.70" stroke="#363636" stroke-width="2.0"/>
<line x1="527.40" y1="1132.40" x2="520.40" y2="1132.40" stroke="#363636" stroke-width="2.0"/>
<text transform="translate(536.4,1141.7) scale(1,1.12)" font-size="20.8" font-weight="normal" text-anchor="start" fill="#2a2a2a">97</text>
<line x1="527.40" y1="1093.10" x2="523.40" y2="1093.10" stroke="#363636" stroke-width="2.0"/>
<line x1="527.40" y1="1053.80" x2="520.40" y2="1053.80" stroke="#363636" stroke-width="2.0"/>
<text transform="translate(536.4,1063.1) scale(1,1.12)" font-size="20.8" font-weight="normal" text-anchor="start" fill="#2a2a2a">98</text>
<line x1="527.40" y1="1014.50" x2="523.40" y2="1014.50" stroke="#363636" stroke-width="2.0"/>
<line x1="527.40" y1="975.20" x2="520.40" y2="975.20" stroke="#363636" stroke-width="2.0"/>
<text transform="translate(536.4,984.5) scale(1,1.12)" font-size="20.8" font-weight="normal" text-anchor="start" fill="#2a2a2a">99</text>
<line x1="527.40" y1="935.90" x2="523.40" y2="935.90" stroke="#363636" stroke-width="2.0"/>
<line x1="527.40" y1="896.60" x2="520.40" y2="896.60" stroke="#363636" stroke-width="2.0"/>
<text transform="translate(536.4,905.9) scale(1,1.12)" font-size="20.8" font-weight="normal" text-anchor="start" fill="#2a2a2a">100</text>
<text x="106.60000000000001" y="1240.9" font-size="20.8" font-weight="normal" text-anchor="middle" fill="#2a2a2a">0</text>
<line x1="149.22" y1="1211.00" x2="149.22" y2="1207.00" stroke="#363636" stroke-width="2.0"/>
<line x1="191.24" y1="1211.00" x2="191.24" y2="1204.00" stroke="#363636" stroke-width="2.0"/>
<text x="190.64000000000001" y="1240.9" font-size="20.8" font-weight="normal" text-anchor="middle" fill="#2a2a2a">10</text>
<line x1="233.26" y1="1211.00" x2="233.26" y2="1207.00" stroke="#363636" stroke-width="2.0"/>
<line x1="275.28" y1="1211.00" x2="275.28" y2="1204.00" stroke="#363636" stroke-width="2.0"/>
<text x="274.67999999999995" y="1240.9" font-size="20.8" font-weight="normal" text-anchor="middle" fill="#2a2a2a">20</text>
<line x1="317.30" y1="1211.00" x2="317.30" y2="1207.00" stroke="#363636" stroke-width="2.0"/>
<line x1="359.32" y1="1211.00" x2="359.32" y2="1204.00" stroke="#363636" stroke-width="2.0"/>
<text x="358.71999999999997" y="1240.9" font-size="20.8" font-weight="normal" text-anchor="middle" fill="#2a2a2a">30</text>
<line x1="401.34" y1="1211.00" x2="401.34" y2="1207.00" stroke="#363636" stroke-width="2.0"/>
<line x1="443.36" y1="1211.00" x2="443.36" y2="1204.00" stroke="#363636" stroke-width="2.0"/>
<text x="442.75999999999993" y="1240.9" font-size="20.8" font-weight="normal" text-anchor="middle" fill="#2a2a2a">40</text>
<line x1="485.38" y1="1211.00" x2="485.38" y2="1207.00" stroke="#363636" stroke-width="2.0"/>
<text x="526.8" y="1240.9" font-size="20.8" font-weight="normal" text-anchor="middle" fill="#2a2a2a">50</text>
<text x="238.5" y="1273.5" font-size="24.2" font-weight="normal" text-anchor="start" fill="#2a2a2a">Cycle number / -</text>
<text x="43.2" y="1172.5" font-size="24.3" fill="#2a2a2a" transform="rotate(-90 43.2 1172.5)">Capacity / mA h g<tspan dy="-10" font-size="16.5">&#8722;1</tspan><tspan dy="10">-sulfur</tspan></text>
<text x="585.4" y="1173.6" font-size="24.6" font-weight="normal" text-anchor="start" fill="#2a2a2a" transform="rotate(-90 585.4 1173.6)">Coulombic efficiency / %</text>
<text transform="translate(469.2,895.9) scale(1.12,1)" font-size="25.5" font-weight="bold" fill="#1a1a1a" style="stroke:#1a1a1a;stroke-width:0.9px">(c)</text>
<text x="283.2" y="1158.7" font-size="16.6" font-weight="normal" text-anchor="start" fill="#2a2a2a">Discharge</text>
<text x="369" y="1158.7" font-size="16.6" font-weight="normal" text-anchor="start" fill="#2a2a2a">Charge</text>
<text x="439.4" y="1158.7" font-size="16.6" font-weight="normal" text-anchor="start" fill="#2a2a2a">Efficiency</text>
<text x="153" y="1179.5" font-size="17" fill="#2a2a2a">[Li(G4)<tspan font-size="12.5">1</tspan>][TFSA]</text>
<text x="132.8" y="1199.6" font-size="17" fill="#2a2a2a">[Li(G4)<tspan font-size="12.5">1</tspan>][TFSA] / HFE</text>
<path d="M329.50,1167.20 L335.50,1177.20 L323.50,1177.20 Z" fill="#1896c2" stroke="#1896c2" stroke-width="1" stroke-linejoin="miter"/>
<path d="M402.80,1167.60 L408.40,1176.80 L397.20,1176.80 Z" fill="#fff" stroke="#2aa0c8" stroke-width="1.4" stroke-linejoin="miter"/>
<path d="M480.20,1167.60 L485.80,1176.80 L474.60,1176.80 Z" fill="#1f8fa8" stroke="#111" stroke-width="2" stroke-linejoin="miter"/>
<path d="M330.00,1189.20 L336.00,1195.20 L330.00,1201.20 L324.00,1195.20 Z" fill="#f07a2b" stroke="#f07a2b" stroke-width="1" stroke-linejoin="miter"/>
<path d="M403.00,1189.70 L408.50,1195.20 L403.00,1200.70 L397.50,1195.20 Z" fill="#fff" stroke="#f2a050" stroke-width="1.4" stroke-linejoin="miter"/>
<path d="M480.30,1189.60 L485.90,1195.20 L480.30,1200.80 L474.70,1195.20 Z" fill="#e07a3a" stroke="#111" stroke-width="1.9" stroke-linejoin="miter"/>
</svg></body></html>
